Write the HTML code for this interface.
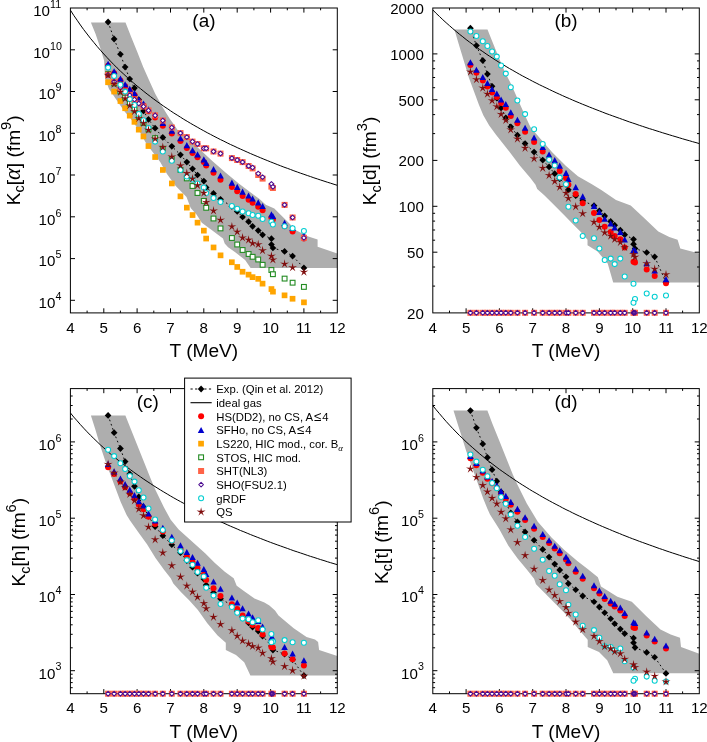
<!DOCTYPE html>
<html><head><meta charset="utf-8"><title>Chemical equilibrium constants</title>
<style>html,body{margin:0;padding:0;background:#fff}svg{display:block;will-change:transform}text{fill:#000}</style></head>
<body>
<svg width="707" height="742" viewBox="0 0 707 742">
<rect width="707" height="742" fill="#fff"/>
<clipPath id="cla"><rect x="70.4" y="8.0" width="266.9" height="304.9"/></clipPath>
<g clip-path="url(#cla)">
<path d="M90.9 22.4L125.5 22.4L131.3 37.3L137.3 52.1L143.2 66.9L149.1 80.3L155.1 93.6L162.5 107.0L169.9 118.9L174.3 125.1L177.4 129.7L184.7 134.8L197.5 147.2L212.3 161.0L225.5 172.6L239.4 184.0L259.2 198.8L265.8 204.8L274.3 208.5L287.9 222.1L296.4 230.6L308.3 236.5L317.6 239.4L317.6 246.7L337.3 253.5L337.3 267.9L250.6 267.9L245.1 260.0L234.9 252.0L228.1 247.3L224.7 243.6L223.0 238.5L212.0 230.3L201.8 222.7L196.7 214.7L190.7 207.9L186.5 196.9L175.5 185.8L167.0 174.0L160.2 162.1L150.0 148.5L145.5 142.3L139.1 130.5L130.6 118.5L125.0 112.0L120.0 105.0L114.5 97.0L109.0 89.0L105.0 78.0L104.1 60.6L99.9 46.8L95.6 34.1Z" fill="#aeaeae"/>
<path d="M70.4 10.1L73.7 15.3L77.1 20.2L80.4 25.0L83.7 29.6L87.1 34.0L90.4 38.3L93.8 42.4L97.1 46.4L100.4 50.2L103.8 54.0L107.1 57.6L110.4 61.1L113.8 64.6L117.1 67.9L120.4 71.1L123.8 74.2L127.1 77.3L130.5 80.3L133.8 83.2L137.1 86.0L140.5 88.7L143.8 91.4L147.1 94.0L150.5 96.6L153.8 99.1L157.1 101.5L160.5 103.9L163.8 106.3L167.2 108.5L170.5 110.8L173.8 113.0L177.2 115.1L180.5 117.2L183.8 119.3L187.2 121.3L190.5 123.3L193.8 125.2L197.2 127.1L200.5 129.0L203.8 130.8L207.2 132.7L210.5 134.4L213.9 136.2L217.2 137.9L220.5 139.6L223.9 141.2L227.2 142.9L230.5 144.5L233.9 146.0L237.2 147.6L240.5 149.1L243.9 150.6L247.2 152.1L250.6 153.6L253.9 155.0L257.2 156.4L260.6 157.8L263.9 159.2L267.2 160.5L270.6 161.9L273.9 163.2L277.2 164.5L280.6 165.8L283.9 167.1L287.3 168.3L290.6 169.5L293.9 170.8L297.3 172.0L300.6 173.2L303.9 174.3L307.3 175.5L310.6 176.6L313.9 177.8L317.3 178.9L320.6 180.0L324.0 181.1L327.3 182.2L330.6 183.2L334.0 184.3L337.3 185.3" fill="none" stroke="#000" stroke-width="1.0"/>
</g>
<rect x="70.4" y="8.0" width="266.9" height="304.9" fill="none" stroke="#000" stroke-width="1"/>
<text x="70.4" y="332.6" font-size="15.1" text-anchor="middle" font-family="Liberation Sans, sans-serif">4</text>
<path d="M87.1 312.9v-2.3M87.1 8.0v2.3" stroke="#000" stroke-width="1"/>
<path d="M103.8 312.9v-4.6M103.8 8.0v4.6" stroke="#000" stroke-width="1"/>
<text x="103.8" y="332.6" font-size="15.1" text-anchor="middle" font-family="Liberation Sans, sans-serif">5</text>
<path d="M120.4 312.9v-2.3M120.4 8.0v2.3" stroke="#000" stroke-width="1"/>
<path d="M137.1 312.9v-4.6M137.1 8.0v4.6" stroke="#000" stroke-width="1"/>
<text x="137.1" y="332.6" font-size="15.1" text-anchor="middle" font-family="Liberation Sans, sans-serif">6</text>
<path d="M153.8 312.9v-2.3M153.8 8.0v2.3" stroke="#000" stroke-width="1"/>
<path d="M170.5 312.9v-4.6M170.5 8.0v4.6" stroke="#000" stroke-width="1"/>
<text x="170.5" y="332.6" font-size="15.1" text-anchor="middle" font-family="Liberation Sans, sans-serif">7</text>
<path d="M187.2 312.9v-2.3M187.2 8.0v2.3" stroke="#000" stroke-width="1"/>
<path d="M203.8 312.9v-4.6M203.8 8.0v4.6" stroke="#000" stroke-width="1"/>
<text x="203.8" y="332.6" font-size="15.1" text-anchor="middle" font-family="Liberation Sans, sans-serif">8</text>
<path d="M220.5 312.9v-2.3M220.5 8.0v2.3" stroke="#000" stroke-width="1"/>
<path d="M237.2 312.9v-4.6M237.2 8.0v4.6" stroke="#000" stroke-width="1"/>
<text x="237.2" y="332.6" font-size="15.1" text-anchor="middle" font-family="Liberation Sans, sans-serif">9</text>
<path d="M253.9 312.9v-2.3M253.9 8.0v2.3" stroke="#000" stroke-width="1"/>
<path d="M270.6 312.9v-4.6M270.6 8.0v4.6" stroke="#000" stroke-width="1"/>
<text x="270.6" y="332.6" font-size="15.1" text-anchor="middle" font-family="Liberation Sans, sans-serif">10</text>
<path d="M287.3 312.9v-2.3M287.3 8.0v2.3" stroke="#000" stroke-width="1"/>
<path d="M303.9 312.9v-4.6M303.9 8.0v4.6" stroke="#000" stroke-width="1"/>
<text x="303.9" y="332.6" font-size="15.1" text-anchor="middle" font-family="Liberation Sans, sans-serif">11</text>
<path d="M320.6 312.9v-2.3M320.6 8.0v2.3" stroke="#000" stroke-width="1"/>
<text x="337.3" y="332.6" font-size="15.1" text-anchor="middle" font-family="Liberation Sans, sans-serif">12</text>
<text x="203.9" y="356.7" font-size="19.1" text-anchor="middle" font-family="Liberation Sans, sans-serif">T (MeV)</text>
<path d="M70.4 300.3h4.6M337.3 300.3h-4.6" stroke="#000" stroke-width="1"/>
<text x="55.4" y="308.1" font-size="15.1" text-anchor="end" font-family="Liberation Sans, sans-serif">10</text>
<text x="55.5" y="300.0" font-size="10.7" text-anchor="start" font-family="Liberation Sans, sans-serif">4</text>
<path d="M70.4 258.6h4.6M337.3 258.6h-4.6" stroke="#000" stroke-width="1"/>
<text x="55.4" y="266.4" font-size="15.1" text-anchor="end" font-family="Liberation Sans, sans-serif">10</text>
<text x="55.5" y="258.3" font-size="10.7" text-anchor="start" font-family="Liberation Sans, sans-serif">5</text>
<path d="M70.4 216.8h4.6M337.3 216.8h-4.6" stroke="#000" stroke-width="1"/>
<text x="55.4" y="224.6" font-size="15.1" text-anchor="end" font-family="Liberation Sans, sans-serif">10</text>
<text x="55.5" y="216.5" font-size="10.7" text-anchor="start" font-family="Liberation Sans, sans-serif">6</text>
<path d="M70.4 175.0h4.6M337.3 175.0h-4.6" stroke="#000" stroke-width="1"/>
<text x="55.4" y="182.8" font-size="15.1" text-anchor="end" font-family="Liberation Sans, sans-serif">10</text>
<text x="55.5" y="174.7" font-size="10.7" text-anchor="start" font-family="Liberation Sans, sans-serif">7</text>
<path d="M70.4 133.3h4.6M337.3 133.3h-4.6" stroke="#000" stroke-width="1"/>
<text x="55.4" y="141.1" font-size="15.1" text-anchor="end" font-family="Liberation Sans, sans-serif">10</text>
<text x="55.5" y="133.0" font-size="10.7" text-anchor="start" font-family="Liberation Sans, sans-serif">8</text>
<path d="M70.4 91.5h4.6M337.3 91.5h-4.6" stroke="#000" stroke-width="1"/>
<text x="55.4" y="99.3" font-size="15.1" text-anchor="end" font-family="Liberation Sans, sans-serif">10</text>
<text x="55.5" y="91.2" font-size="10.7" text-anchor="start" font-family="Liberation Sans, sans-serif">9</text>
<path d="M70.4 49.8h4.6M337.3 49.8h-4.6" stroke="#000" stroke-width="1"/>
<text x="50.0" y="57.6" font-size="15.1" text-anchor="end" font-family="Liberation Sans, sans-serif">10</text>
<text x="50.1" y="49.5" font-size="10.7" text-anchor="start" font-family="Liberation Sans, sans-serif">10</text>
<text x="50.0" y="15.8" font-size="15.1" text-anchor="end" font-family="Liberation Sans, sans-serif">10</text>
<text x="50.1" y="7.7" font-size="10.7" text-anchor="start" font-family="Liberation Sans, sans-serif">11</text>
<path d="M108.1 22.0L114.1 39.0L120.4 54.3L125.1 67.1L129.8 79.0L134.5 88.1L138.8 99.5L143.5 110.9L148.5 119.4L155.1 128.2L162.8 137.4L171.8 146.3L180.5 154.8L186.8 162.1L192.5 168.8L197.5 175.0L203.8 181.1L206.2 187.5L213.5 193.4L220.5 199.3L231.9 206.5L237.2 211.5L242.6 217.0L248.6 221.7L252.6 226.3L258.2 230.6L262.6 234.8L271.4 238.7L271.4 244.5L272.9 248.0L284.6 251.4L292.6 256.0L303.9 267.9" fill="none" stroke="#000" stroke-width="0.95" stroke-dasharray="1.7 2.8"/>
<path d="M108.1 18.6L111.4 22.0L108.1 25.4L104.7 22.0Z" fill="#000" stroke="none" stroke-width="0" stroke-linejoin="round"/>
<path d="M114.1 35.6L117.5 39.0L114.1 42.4L110.8 39.0Z" fill="#000" stroke="none" stroke-width="0" stroke-linejoin="round"/>
<path d="M120.4 50.9L123.8 54.3L120.4 57.6L117.1 54.3Z" fill="#000" stroke="none" stroke-width="0" stroke-linejoin="round"/>
<path d="M125.1 63.7L128.5 67.1L125.1 70.4L121.8 67.1Z" fill="#000" stroke="none" stroke-width="0" stroke-linejoin="round"/>
<path d="M129.8 75.7L133.1 79.0L129.8 82.3L126.4 79.0Z" fill="#000" stroke="none" stroke-width="0" stroke-linejoin="round"/>
<path d="M134.5 84.8L137.8 88.1L134.5 91.4L131.1 88.1Z" fill="#000" stroke="none" stroke-width="0" stroke-linejoin="round"/>
<path d="M138.8 96.2L142.1 99.5L138.8 102.8L135.4 99.5Z" fill="#000" stroke="none" stroke-width="0" stroke-linejoin="round"/>
<path d="M143.5 107.6L146.8 110.9L143.5 114.2L140.1 110.9Z" fill="#000" stroke="none" stroke-width="0" stroke-linejoin="round"/>
<path d="M148.5 116.1L151.8 119.4L148.5 122.8L145.1 119.4Z" fill="#000" stroke="none" stroke-width="0" stroke-linejoin="round"/>
<path d="M155.1 124.8L158.5 128.2L155.1 131.5L151.8 128.2Z" fill="#000" stroke="none" stroke-width="0" stroke-linejoin="round"/>
<path d="M162.8 134.1L166.2 137.4L162.8 140.8L159.5 137.4Z" fill="#000" stroke="none" stroke-width="0" stroke-linejoin="round"/>
<path d="M171.8 143.0L175.2 146.3L171.8 149.7L168.5 146.3Z" fill="#000" stroke="none" stroke-width="0" stroke-linejoin="round"/>
<path d="M180.5 151.5L183.8 154.8L180.5 158.2L177.1 154.8Z" fill="#000" stroke="none" stroke-width="0" stroke-linejoin="round"/>
<path d="M186.8 158.8L190.2 162.1L186.8 165.4L183.5 162.1Z" fill="#000" stroke="none" stroke-width="0" stroke-linejoin="round"/>
<path d="M192.5 165.5L195.9 168.8L192.5 172.2L189.2 168.8Z" fill="#000" stroke="none" stroke-width="0" stroke-linejoin="round"/>
<path d="M197.5 171.7L200.9 175.0L197.5 178.3L194.2 175.0Z" fill="#000" stroke="none" stroke-width="0" stroke-linejoin="round"/>
<path d="M203.8 177.8L207.2 181.1L203.8 184.4L200.5 181.1Z" fill="#000" stroke="none" stroke-width="0" stroke-linejoin="round"/>
<path d="M206.2 184.2L209.5 187.5L206.2 190.8L202.8 187.5Z" fill="#000" stroke="none" stroke-width="0" stroke-linejoin="round"/>
<path d="M213.5 190.1L216.9 193.4L213.5 196.8L210.2 193.4Z" fill="#000" stroke="none" stroke-width="0" stroke-linejoin="round"/>
<path d="M220.5 196.0L223.9 199.3L220.5 202.7L217.2 199.3Z" fill="#000" stroke="none" stroke-width="0" stroke-linejoin="round"/>
<path d="M231.9 203.2L235.2 206.5L231.9 209.8L228.5 206.5Z" fill="#000" stroke="none" stroke-width="0" stroke-linejoin="round"/>
<path d="M237.2 208.2L240.6 211.5L237.2 214.8L233.9 211.5Z" fill="#000" stroke="none" stroke-width="0" stroke-linejoin="round"/>
<path d="M242.6 213.7L245.9 217.0L242.6 220.3L239.2 217.0Z" fill="#000" stroke="none" stroke-width="0" stroke-linejoin="round"/>
<path d="M248.6 218.3L251.9 221.7L248.6 225.0L245.2 221.7Z" fill="#000" stroke="none" stroke-width="0" stroke-linejoin="round"/>
<path d="M252.6 223.0L255.9 226.3L252.6 229.7L249.2 226.3Z" fill="#000" stroke="none" stroke-width="0" stroke-linejoin="round"/>
<path d="M258.2 227.2L261.6 230.6L258.2 233.9L254.9 230.6Z" fill="#000" stroke="none" stroke-width="0" stroke-linejoin="round"/>
<path d="M262.6 231.5L265.9 234.8L262.6 238.2L259.2 234.8Z" fill="#000" stroke="none" stroke-width="0" stroke-linejoin="round"/>
<path d="M271.4 235.3L274.8 238.7L271.4 242.0L268.1 238.7Z" fill="#000" stroke="none" stroke-width="0" stroke-linejoin="round"/>
<path d="M272.9 244.7L276.3 248.0L272.9 251.3L269.6 248.0Z" fill="#000" stroke="none" stroke-width="0" stroke-linejoin="round"/>
<path d="M284.6 248.1L287.9 251.4L284.6 254.8L281.2 251.4Z" fill="#000" stroke="none" stroke-width="0" stroke-linejoin="round"/>
<path d="M292.6 252.7L295.9 256.0L292.6 259.4L289.2 256.0Z" fill="#000" stroke="none" stroke-width="0" stroke-linejoin="round"/>
<path d="M303.9 264.5L307.3 267.9L303.9 271.2L300.6 267.9Z" fill="#000" stroke="none" stroke-width="0" stroke-linejoin="round"/>
<path d="M271.4 241.2L274.8 244.5L271.4 247.8L268.1 244.5Z" fill="#000" stroke="none" stroke-width="0" stroke-linejoin="round"/>
<circle cx="108.1" cy="65.7" r="3.0" fill="#ff0000" stroke="none" stroke-width="0"/>
<circle cx="114.1" cy="73.3" r="3.0" fill="#ff0000" stroke="none" stroke-width="0"/>
<circle cx="120.4" cy="80.5" r="3.0" fill="#ff0000" stroke="none" stroke-width="0"/>
<circle cx="125.1" cy="86.2" r="3.0" fill="#ff0000" stroke="none" stroke-width="0"/>
<circle cx="129.8" cy="90.7" r="3.0" fill="#ff0000" stroke="none" stroke-width="0"/>
<circle cx="134.5" cy="95.1" r="3.0" fill="#ff0000" stroke="none" stroke-width="0"/>
<circle cx="138.8" cy="101.6" r="3.0" fill="#ff0000" stroke="none" stroke-width="0"/>
<circle cx="143.5" cy="105.5" r="3.0" fill="#ff0000" stroke="none" stroke-width="0"/>
<circle cx="148.5" cy="111.3" r="3.0" fill="#ff0000" stroke="none" stroke-width="0"/>
<circle cx="155.1" cy="117.6" r="3.0" fill="#ff0000" stroke="none" stroke-width="0"/>
<circle cx="162.8" cy="125.7" r="3.0" fill="#ff0000" stroke="none" stroke-width="0"/>
<circle cx="171.8" cy="133.5" r="3.0" fill="#ff0000" stroke="none" stroke-width="0"/>
<circle cx="180.5" cy="140.9" r="3.0" fill="#ff0000" stroke="none" stroke-width="0"/>
<circle cx="186.8" cy="148.0" r="3.0" fill="#ff0000" stroke="none" stroke-width="0"/>
<circle cx="192.5" cy="152.9" r="3.0" fill="#ff0000" stroke="none" stroke-width="0"/>
<circle cx="197.5" cy="157.2" r="3.0" fill="#ff0000" stroke="none" stroke-width="0"/>
<circle cx="203.8" cy="162.1" r="3.0" fill="#ff0000" stroke="none" stroke-width="0"/>
<circle cx="206.2" cy="165.6" r="3.0" fill="#ff0000" stroke="none" stroke-width="0"/>
<circle cx="213.5" cy="172.7" r="3.0" fill="#ff0000" stroke="none" stroke-width="0"/>
<circle cx="220.5" cy="179.8" r="3.0" fill="#ff0000" stroke="none" stroke-width="0"/>
<circle cx="231.9" cy="186.9" r="3.0" fill="#ff0000" stroke="none" stroke-width="0"/>
<circle cx="237.2" cy="191.2" r="3.0" fill="#ff0000" stroke="none" stroke-width="0"/>
<circle cx="242.6" cy="195.9" r="3.0" fill="#ff0000" stroke="none" stroke-width="0"/>
<circle cx="248.6" cy="199.8" r="3.0" fill="#ff0000" stroke="none" stroke-width="0"/>
<circle cx="252.6" cy="202.8" r="3.0" fill="#ff0000" stroke="none" stroke-width="0"/>
<circle cx="258.2" cy="206.7" r="3.0" fill="#ff0000" stroke="none" stroke-width="0"/>
<circle cx="262.6" cy="210.3" r="3.0" fill="#ff0000" stroke="none" stroke-width="0"/>
<circle cx="271.4" cy="217.8" r="3.0" fill="#ff0000" stroke="none" stroke-width="0"/>
<circle cx="272.9" cy="219.5" r="3.0" fill="#ff0000" stroke="none" stroke-width="0"/>
<circle cx="284.6" cy="226.3" r="3.0" fill="#ff0000" stroke="none" stroke-width="0"/>
<circle cx="292.6" cy="231.5" r="3.0" fill="#ff0000" stroke="none" stroke-width="0"/>
<circle cx="303.9" cy="238.4" r="3.0" fill="#ff0000" stroke="none" stroke-width="0"/>
<path d="M108.1 60.7L111.3 66.8L104.8 66.8Z" fill="#0000cd"/>
<path d="M114.1 68.2L117.4 74.3L110.9 74.3Z" fill="#0000cd"/>
<path d="M120.4 75.5L123.7 81.5L117.2 81.5Z" fill="#0000cd"/>
<path d="M125.1 81.2L128.4 87.2L121.9 87.2Z" fill="#0000cd"/>
<path d="M129.8 85.7L133.0 91.8L126.5 91.8Z" fill="#0000cd"/>
<path d="M134.5 90.0L137.7 96.1L131.2 96.1Z" fill="#0000cd"/>
<path d="M138.8 96.5L142.0 102.6L135.5 102.6Z" fill="#0000cd"/>
<path d="M143.5 100.5L146.7 106.5L140.2 106.5Z" fill="#0000cd"/>
<path d="M148.5 106.2L151.7 112.3L145.2 112.3Z" fill="#0000cd"/>
<path d="M155.1 111.8L158.4 117.8L151.9 117.8Z" fill="#0000cd"/>
<path d="M162.8 119.9L166.1 126.0L159.6 126.0Z" fill="#0000cd"/>
<path d="M171.8 127.6L175.1 133.8L168.6 133.8Z" fill="#0000cd"/>
<path d="M180.5 135.0L183.7 141.2L177.2 141.2Z" fill="#0000cd"/>
<path d="M186.8 142.1L190.1 148.2L183.6 148.2Z" fill="#0000cd"/>
<path d="M192.5 147.0L195.8 153.2L189.3 153.2Z" fill="#0000cd"/>
<path d="M197.5 151.3L200.8 157.5L194.3 157.5Z" fill="#0000cd"/>
<path d="M203.8 156.2L207.1 162.4L200.6 162.4Z" fill="#0000cd"/>
<path d="M206.2 159.8L209.4 165.9L202.9 165.9Z" fill="#0000cd"/>
<path d="M213.5 166.0L216.8 172.2L210.3 172.2Z" fill="#0000cd"/>
<path d="M220.5 172.4L223.8 178.6L217.3 178.6Z" fill="#0000cd"/>
<path d="M231.9 179.5L235.1 185.7L228.6 185.7Z" fill="#0000cd"/>
<path d="M237.2 183.8L240.5 189.9L234.0 189.9Z" fill="#0000cd"/>
<path d="M242.6 188.5L245.8 194.7L239.3 194.7Z" fill="#0000cd"/>
<path d="M248.6 192.4L251.8 198.6L245.3 198.6Z" fill="#0000cd"/>
<path d="M252.6 195.4L255.8 201.6L249.3 201.6Z" fill="#0000cd"/>
<path d="M258.2 199.3L261.5 205.4L255.0 205.4Z" fill="#0000cd"/>
<path d="M262.6 202.9L265.8 209.1L259.3 209.1Z" fill="#0000cd"/>
<path d="M271.4 211.2L274.7 217.4L268.2 217.4Z" fill="#0000cd"/>
<path d="M272.9 212.9L276.2 219.1L269.7 219.1Z" fill="#0000cd"/>
<path d="M284.6 219.8L287.8 225.9L281.3 225.9Z" fill="#0000cd"/>
<path d="M292.6 224.9L295.8 231.1L289.3 231.1Z" fill="#0000cd"/>
<path d="M303.9 231.8L307.2 238.0L300.7 238.0Z" fill="#0000cd"/>
<rect x="105.2" y="79.4" width="5.7" height="5.7" fill="#ffa500" stroke="none" stroke-width="0"/>
<rect x="111.3" y="88.7" width="5.7" height="5.7" fill="#ffa500" stroke="none" stroke-width="0"/>
<rect x="117.6" y="98.2" width="5.7" height="5.7" fill="#ffa500" stroke="none" stroke-width="0"/>
<rect x="122.3" y="105.4" width="5.7" height="5.7" fill="#ffa500" stroke="none" stroke-width="0"/>
<rect x="126.9" y="112.8" width="5.7" height="5.7" fill="#ffa500" stroke="none" stroke-width="0"/>
<rect x="131.6" y="119.0" width="5.7" height="5.7" fill="#ffa500" stroke="none" stroke-width="0"/>
<rect x="135.9" y="126.8" width="5.7" height="5.7" fill="#ffa500" stroke="none" stroke-width="0"/>
<rect x="140.6" y="133.6" width="5.7" height="5.7" fill="#ffa500" stroke="none" stroke-width="0"/>
<rect x="145.6" y="143.2" width="5.7" height="5.7" fill="#ffa500" stroke="none" stroke-width="0"/>
<rect x="152.3" y="154.2" width="5.7" height="5.7" fill="#ffa500" stroke="none" stroke-width="0"/>
<rect x="160.0" y="167.1" width="5.7" height="5.7" fill="#ffa500" stroke="none" stroke-width="0"/>
<rect x="169.0" y="180.6" width="5.7" height="5.7" fill="#ffa500" stroke="none" stroke-width="0"/>
<rect x="177.6" y="193.5" width="5.7" height="5.7" fill="#ffa500" stroke="none" stroke-width="0"/>
<rect x="184.0" y="204.8" width="5.7" height="5.7" fill="#ffa500" stroke="none" stroke-width="0"/>
<rect x="189.7" y="212.2" width="5.7" height="5.7" fill="#ffa500" stroke="none" stroke-width="0"/>
<rect x="194.7" y="219.8" width="5.7" height="5.7" fill="#ffa500" stroke="none" stroke-width="0"/>
<rect x="201.0" y="227.8" width="5.7" height="5.7" fill="#ffa500" stroke="none" stroke-width="0"/>
<rect x="203.3" y="235.7" width="5.7" height="5.7" fill="#ffa500" stroke="none" stroke-width="0"/>
<rect x="210.7" y="244.6" width="5.7" height="5.7" fill="#ffa500" stroke="none" stroke-width="0"/>
<rect x="217.7" y="252.5" width="5.7" height="5.7" fill="#ffa500" stroke="none" stroke-width="0"/>
<rect x="229.0" y="259.4" width="5.7" height="5.7" fill="#ffa500" stroke="none" stroke-width="0"/>
<rect x="234.4" y="264.1" width="5.7" height="5.7" fill="#ffa500" stroke="none" stroke-width="0"/>
<rect x="239.7" y="268.9" width="5.7" height="5.7" fill="#ffa500" stroke="none" stroke-width="0"/>
<rect x="245.7" y="271.8" width="5.7" height="5.7" fill="#ffa500" stroke="none" stroke-width="0"/>
<rect x="249.7" y="274.3" width="5.7" height="5.7" fill="#ffa500" stroke="none" stroke-width="0"/>
<rect x="255.4" y="276.0" width="5.7" height="5.7" fill="#ffa500" stroke="none" stroke-width="0"/>
<rect x="259.7" y="280.8" width="5.7" height="5.7" fill="#ffa500" stroke="none" stroke-width="0"/>
<rect x="268.6" y="286.2" width="5.7" height="5.7" fill="#ffa500" stroke="none" stroke-width="0"/>
<rect x="270.1" y="288.8" width="5.7" height="5.7" fill="#ffa500" stroke="none" stroke-width="0"/>
<rect x="281.7" y="292.5" width="5.7" height="5.7" fill="#ffa500" stroke="none" stroke-width="0"/>
<rect x="289.7" y="295.9" width="5.7" height="5.7" fill="#ffa500" stroke="none" stroke-width="0"/>
<rect x="301.1" y="299.5" width="5.7" height="5.7" fill="#ffa500" stroke="none" stroke-width="0"/>
<rect x="105.7" y="71.6" width="4.8" height="4.8" fill="#fff" stroke="#228b22" stroke-width="1.1"/>
<rect x="111.7" y="81.1" width="4.8" height="4.8" fill="#fff" stroke="#228b22" stroke-width="1.1"/>
<rect x="118.0" y="89.1" width="4.8" height="4.8" fill="#fff" stroke="#228b22" stroke-width="1.1"/>
<rect x="122.7" y="95.2" width="4.8" height="4.8" fill="#fff" stroke="#228b22" stroke-width="1.1"/>
<rect x="127.4" y="101.1" width="4.8" height="4.8" fill="#fff" stroke="#228b22" stroke-width="1.1"/>
<rect x="132.1" y="107.1" width="4.8" height="4.8" fill="#fff" stroke="#228b22" stroke-width="1.1"/>
<rect x="136.4" y="114.6" width="4.8" height="4.8" fill="#fff" stroke="#228b22" stroke-width="1.1"/>
<rect x="141.1" y="120.6" width="4.8" height="4.8" fill="#fff" stroke="#228b22" stroke-width="1.1"/>
<rect x="146.1" y="127.1" width="4.8" height="4.8" fill="#fff" stroke="#228b22" stroke-width="1.1"/>
<rect x="152.7" y="135.7" width="4.8" height="4.8" fill="#fff" stroke="#228b22" stroke-width="1.1"/>
<rect x="160.4" y="146.3" width="4.8" height="4.8" fill="#fff" stroke="#228b22" stroke-width="1.1"/>
<rect x="169.4" y="156.9" width="4.8" height="4.8" fill="#fff" stroke="#228b22" stroke-width="1.1"/>
<rect x="178.1" y="167.5" width="4.8" height="4.8" fill="#fff" stroke="#228b22" stroke-width="1.1"/>
<rect x="184.4" y="176.0" width="4.8" height="4.8" fill="#fff" stroke="#228b22" stroke-width="1.1"/>
<rect x="190.1" y="183.6" width="4.8" height="4.8" fill="#fff" stroke="#228b22" stroke-width="1.1"/>
<rect x="195.1" y="190.6" width="4.8" height="4.8" fill="#fff" stroke="#228b22" stroke-width="1.1"/>
<rect x="201.4" y="198.5" width="4.8" height="4.8" fill="#fff" stroke="#228b22" stroke-width="1.1"/>
<rect x="203.8" y="205.4" width="4.8" height="4.8" fill="#fff" stroke="#228b22" stroke-width="1.1"/>
<rect x="211.1" y="216.1" width="4.8" height="4.8" fill="#fff" stroke="#228b22" stroke-width="1.1"/>
<rect x="218.1" y="226.0" width="4.8" height="4.8" fill="#fff" stroke="#228b22" stroke-width="1.1"/>
<rect x="229.5" y="235.6" width="4.8" height="4.8" fill="#fff" stroke="#228b22" stroke-width="1.1"/>
<rect x="234.8" y="242.1" width="4.8" height="4.8" fill="#fff" stroke="#228b22" stroke-width="1.1"/>
<rect x="240.2" y="247.6" width="4.8" height="4.8" fill="#fff" stroke="#228b22" stroke-width="1.1"/>
<rect x="246.2" y="251.6" width="4.8" height="4.8" fill="#fff" stroke="#228b22" stroke-width="1.1"/>
<rect x="250.2" y="254.4" width="4.8" height="4.8" fill="#fff" stroke="#228b22" stroke-width="1.1"/>
<rect x="255.8" y="257.1" width="4.8" height="4.8" fill="#fff" stroke="#228b22" stroke-width="1.1"/>
<rect x="260.2" y="262.4" width="4.8" height="4.8" fill="#fff" stroke="#228b22" stroke-width="1.1"/>
<rect x="269.0" y="267.6" width="4.8" height="4.8" fill="#fff" stroke="#228b22" stroke-width="1.1"/>
<rect x="270.5" y="271.8" width="4.8" height="4.8" fill="#fff" stroke="#228b22" stroke-width="1.1"/>
<rect x="282.2" y="276.2" width="4.8" height="4.8" fill="#fff" stroke="#228b22" stroke-width="1.1"/>
<rect x="290.2" y="280.3" width="4.8" height="4.8" fill="#fff" stroke="#228b22" stroke-width="1.1"/>
<rect x="301.5" y="284.5" width="4.8" height="4.8" fill="#fff" stroke="#228b22" stroke-width="1.1"/>
<rect x="105.1" y="71.8" width="6.0" height="6.0" fill="#ff6347" stroke="none" stroke-width="0"/>
<rect x="111.1" y="78.7" width="6.0" height="6.0" fill="#ff6347" stroke="none" stroke-width="0"/>
<rect x="117.4" y="84.7" width="6.0" height="6.0" fill="#ff6347" stroke="none" stroke-width="0"/>
<rect x="122.1" y="88.5" width="6.0" height="6.0" fill="#ff6347" stroke="none" stroke-width="0"/>
<rect x="126.8" y="92.1" width="6.0" height="6.0" fill="#ff6347" stroke="none" stroke-width="0"/>
<rect x="131.5" y="96.6" width="6.0" height="6.0" fill="#ff6347" stroke="none" stroke-width="0"/>
<rect x="135.8" y="100.5" width="6.0" height="6.0" fill="#ff6347" stroke="none" stroke-width="0"/>
<rect x="140.5" y="103.5" width="6.0" height="6.0" fill="#ff6347" stroke="none" stroke-width="0"/>
<rect x="145.5" y="107.4" width="6.0" height="6.0" fill="#ff6347" stroke="none" stroke-width="0"/>
<rect x="152.1" y="112.4" width="6.0" height="6.0" fill="#ff6347" stroke="none" stroke-width="0"/>
<rect x="159.8" y="117.5" width="6.0" height="6.0" fill="#ff6347" stroke="none" stroke-width="0"/>
<rect x="168.8" y="124.5" width="6.0" height="6.0" fill="#ff6347" stroke="none" stroke-width="0"/>
<rect x="177.5" y="130.1" width="6.0" height="6.0" fill="#ff6347" stroke="none" stroke-width="0"/>
<rect x="183.8" y="134.1" width="6.0" height="6.0" fill="#ff6347" stroke="none" stroke-width="0"/>
<rect x="189.5" y="138.6" width="6.0" height="6.0" fill="#ff6347" stroke="none" stroke-width="0"/>
<rect x="194.5" y="141.0" width="6.0" height="6.0" fill="#ff6347" stroke="none" stroke-width="0"/>
<rect x="200.8" y="145.3" width="6.0" height="6.0" fill="#ff6347" stroke="none" stroke-width="0"/>
<rect x="203.2" y="145.3" width="6.0" height="6.0" fill="#ff6347" stroke="none" stroke-width="0"/>
<rect x="210.5" y="148.5" width="6.0" height="6.0" fill="#ff6347" stroke="none" stroke-width="0"/>
<rect x="217.5" y="150.6" width="6.0" height="6.0" fill="#ff6347" stroke="none" stroke-width="0"/>
<rect x="228.9" y="155.1" width="6.0" height="6.0" fill="#ff6347" stroke="none" stroke-width="0"/>
<rect x="234.2" y="157.0" width="6.0" height="6.0" fill="#ff6347" stroke="none" stroke-width="0"/>
<rect x="239.6" y="159.1" width="6.0" height="6.0" fill="#ff6347" stroke="none" stroke-width="0"/>
<rect x="245.6" y="163.0" width="6.0" height="6.0" fill="#ff6347" stroke="none" stroke-width="0"/>
<rect x="249.6" y="165.4" width="6.0" height="6.0" fill="#ff6347" stroke="none" stroke-width="0"/>
<rect x="255.2" y="172.0" width="6.0" height="6.0" fill="#ff6347" stroke="none" stroke-width="0"/>
<rect x="259.6" y="175.6" width="6.0" height="6.0" fill="#ff6347" stroke="none" stroke-width="0"/>
<rect x="268.4" y="183.6" width="6.0" height="6.0" fill="#ff6347" stroke="none" stroke-width="0"/>
<rect x="269.9" y="185.0" width="6.0" height="6.0" fill="#ff6347" stroke="none" stroke-width="0"/>
<rect x="281.6" y="201.9" width="6.0" height="6.0" fill="#ff6347" stroke="none" stroke-width="0"/>
<rect x="289.6" y="214.5" width="6.0" height="6.0" fill="#ff6347" stroke="none" stroke-width="0"/>
<rect x="300.9" y="234.8" width="6.0" height="6.0" fill="#ff6347" stroke="none" stroke-width="0"/>
<path d="M108.1 72.5L110.4 74.8L108.1 77.1L105.7 74.8Z" fill="#fff" stroke="#4b0a90" stroke-width="1.05" stroke-linejoin="round"/>
<path d="M114.1 79.4L116.5 81.7L114.1 84.0L111.8 81.7Z" fill="#fff" stroke="#4b0a90" stroke-width="1.05" stroke-linejoin="round"/>
<path d="M120.4 85.4L122.8 87.7L120.4 90.0L118.1 87.7Z" fill="#fff" stroke="#4b0a90" stroke-width="1.05" stroke-linejoin="round"/>
<path d="M125.1 89.2L127.5 91.5L125.1 93.8L122.8 91.5Z" fill="#fff" stroke="#4b0a90" stroke-width="1.05" stroke-linejoin="round"/>
<path d="M129.8 92.8L132.1 95.1L129.8 97.4L127.4 95.1Z" fill="#fff" stroke="#4b0a90" stroke-width="1.05" stroke-linejoin="round"/>
<path d="M134.5 97.2L136.8 99.6L134.5 101.9L132.1 99.6Z" fill="#fff" stroke="#4b0a90" stroke-width="1.05" stroke-linejoin="round"/>
<path d="M138.8 101.2L141.1 103.5L138.8 105.8L136.4 103.5Z" fill="#fff" stroke="#4b0a90" stroke-width="1.05" stroke-linejoin="round"/>
<path d="M143.5 104.2L145.8 106.5L143.5 108.8L141.1 106.5Z" fill="#fff" stroke="#4b0a90" stroke-width="1.05" stroke-linejoin="round"/>
<path d="M148.5 108.1L150.8 110.4L148.5 112.8L146.1 110.4Z" fill="#fff" stroke="#4b0a90" stroke-width="1.05" stroke-linejoin="round"/>
<path d="M155.1 113.1L157.5 115.4L155.1 117.8L152.8 115.4Z" fill="#fff" stroke="#4b0a90" stroke-width="1.05" stroke-linejoin="round"/>
<path d="M162.8 118.2L165.2 120.5L162.8 122.8L160.5 120.5Z" fill="#fff" stroke="#4b0a90" stroke-width="1.05" stroke-linejoin="round"/>
<path d="M171.8 125.2L174.2 127.5L171.8 129.8L169.5 127.5Z" fill="#fff" stroke="#4b0a90" stroke-width="1.05" stroke-linejoin="round"/>
<path d="M180.5 130.8L182.8 133.1L180.5 135.4L178.1 133.1Z" fill="#fff" stroke="#4b0a90" stroke-width="1.05" stroke-linejoin="round"/>
<path d="M186.8 134.8L189.2 137.1L186.8 139.4L184.5 137.1Z" fill="#fff" stroke="#4b0a90" stroke-width="1.05" stroke-linejoin="round"/>
<path d="M192.5 139.2L194.9 141.6L192.5 143.9L190.2 141.6Z" fill="#fff" stroke="#4b0a90" stroke-width="1.05" stroke-linejoin="round"/>
<path d="M197.5 141.7L199.9 144.0L197.5 146.3L195.2 144.0Z" fill="#fff" stroke="#4b0a90" stroke-width="1.05" stroke-linejoin="round"/>
<path d="M203.8 146.0L206.2 148.3L203.8 150.7L201.5 148.3Z" fill="#fff" stroke="#4b0a90" stroke-width="1.05" stroke-linejoin="round"/>
<path d="M206.2 146.0L208.5 148.3L206.2 150.7L203.8 148.3Z" fill="#fff" stroke="#4b0a90" stroke-width="1.05" stroke-linejoin="round"/>
<path d="M213.5 149.2L215.9 151.5L213.5 153.8L211.2 151.5Z" fill="#fff" stroke="#4b0a90" stroke-width="1.05" stroke-linejoin="round"/>
<path d="M220.5 151.2L222.9 153.6L220.5 155.9L218.2 153.6Z" fill="#fff" stroke="#4b0a90" stroke-width="1.05" stroke-linejoin="round"/>
<path d="M231.9 155.8L234.2 158.1L231.9 160.4L229.5 158.1Z" fill="#fff" stroke="#4b0a90" stroke-width="1.05" stroke-linejoin="round"/>
<path d="M237.2 157.7L239.6 160.0L237.2 162.3L234.9 160.0Z" fill="#fff" stroke="#4b0a90" stroke-width="1.05" stroke-linejoin="round"/>
<path d="M242.6 159.8L244.9 162.1L242.6 164.4L240.2 162.1Z" fill="#fff" stroke="#4b0a90" stroke-width="1.05" stroke-linejoin="round"/>
<path d="M248.6 163.7L250.9 166.0L248.6 168.3L246.2 166.0Z" fill="#fff" stroke="#4b0a90" stroke-width="1.05" stroke-linejoin="round"/>
<path d="M252.6 165.2L254.9 167.6L252.6 169.9L250.2 167.6Z" fill="#fff" stroke="#4b0a90" stroke-width="1.05" stroke-linejoin="round"/>
<path d="M258.2 171.2L260.6 173.6L258.2 175.9L255.9 173.6Z" fill="#fff" stroke="#4b0a90" stroke-width="1.05" stroke-linejoin="round"/>
<path d="M262.6 174.8L264.9 177.1L262.6 179.4L260.2 177.1Z" fill="#fff" stroke="#4b0a90" stroke-width="1.05" stroke-linejoin="round"/>
<path d="M271.4 181.6L273.8 183.9L271.4 186.2L269.1 183.9Z" fill="#fff" stroke="#4b0a90" stroke-width="1.05" stroke-linejoin="round"/>
<path d="M272.9 184.5L275.3 186.8L272.9 189.2L270.6 186.8Z" fill="#fff" stroke="#4b0a90" stroke-width="1.05" stroke-linejoin="round"/>
<path d="M284.6 202.6L286.9 204.9L284.6 207.2L282.2 204.9Z" fill="#fff" stroke="#4b0a90" stroke-width="1.05" stroke-linejoin="round"/>
<path d="M292.6 215.2L294.9 217.5L292.6 219.8L290.2 217.5Z" fill="#fff" stroke="#4b0a90" stroke-width="1.05" stroke-linejoin="round"/>
<path d="M303.9 235.5L306.3 237.8L303.9 240.2L301.6 237.8Z" fill="#fff" stroke="#4b0a90" stroke-width="1.05" stroke-linejoin="round"/>
<circle cx="108.1" cy="67.6" r="2.5" fill="#fff" stroke="#00ced1" stroke-width="1.05"/>
<circle cx="114.1" cy="76.0" r="2.5" fill="#fff" stroke="#00ced1" stroke-width="1.05"/>
<circle cx="120.4" cy="84.7" r="2.5" fill="#fff" stroke="#00ced1" stroke-width="1.05"/>
<circle cx="125.1" cy="91.6" r="2.5" fill="#fff" stroke="#00ced1" stroke-width="1.05"/>
<circle cx="129.8" cy="99.1" r="2.5" fill="#fff" stroke="#00ced1" stroke-width="1.05"/>
<circle cx="134.5" cy="105.0" r="2.5" fill="#fff" stroke="#00ced1" stroke-width="1.05"/>
<circle cx="138.8" cy="113.9" r="2.5" fill="#fff" stroke="#00ced1" stroke-width="1.05"/>
<circle cx="143.5" cy="120.3" r="2.5" fill="#fff" stroke="#00ced1" stroke-width="1.05"/>
<circle cx="148.5" cy="128.0" r="2.5" fill="#fff" stroke="#00ced1" stroke-width="1.05"/>
<circle cx="155.1" cy="141.6" r="2.5" fill="#fff" stroke="#00ced1" stroke-width="1.05"/>
<circle cx="162.8" cy="151.5" r="2.5" fill="#fff" stroke="#00ced1" stroke-width="1.05"/>
<circle cx="171.8" cy="160.7" r="2.5" fill="#fff" stroke="#00ced1" stroke-width="1.05"/>
<circle cx="180.5" cy="169.9" r="2.5" fill="#fff" stroke="#00ced1" stroke-width="1.05"/>
<circle cx="186.8" cy="176.4" r="2.5" fill="#fff" stroke="#00ced1" stroke-width="1.05"/>
<circle cx="192.5" cy="179.5" r="2.5" fill="#fff" stroke="#00ced1" stroke-width="1.05"/>
<circle cx="197.5" cy="183.5" r="2.5" fill="#fff" stroke="#00ced1" stroke-width="1.05"/>
<circle cx="203.8" cy="187.4" r="2.5" fill="#fff" stroke="#00ced1" stroke-width="1.05"/>
<circle cx="206.2" cy="193.0" r="2.5" fill="#fff" stroke="#00ced1" stroke-width="1.05"/>
<circle cx="213.5" cy="197.9" r="2.5" fill="#fff" stroke="#00ced1" stroke-width="1.05"/>
<circle cx="220.5" cy="201.9" r="2.5" fill="#fff" stroke="#00ced1" stroke-width="1.05"/>
<circle cx="231.9" cy="205.9" r="2.5" fill="#fff" stroke="#00ced1" stroke-width="1.05"/>
<circle cx="237.2" cy="208.8" r="2.5" fill="#fff" stroke="#00ced1" stroke-width="1.05"/>
<circle cx="242.6" cy="211.5" r="2.5" fill="#fff" stroke="#00ced1" stroke-width="1.05"/>
<circle cx="248.6" cy="213.2" r="2.5" fill="#fff" stroke="#00ced1" stroke-width="1.05"/>
<circle cx="252.6" cy="215.0" r="2.5" fill="#fff" stroke="#00ced1" stroke-width="1.05"/>
<circle cx="258.2" cy="215.8" r="2.5" fill="#fff" stroke="#00ced1" stroke-width="1.05"/>
<circle cx="262.6" cy="218.9" r="2.5" fill="#fff" stroke="#00ced1" stroke-width="1.05"/>
<circle cx="271.4" cy="221.8" r="2.5" fill="#fff" stroke="#00ced1" stroke-width="1.05"/>
<circle cx="272.9" cy="224.4" r="2.5" fill="#fff" stroke="#00ced1" stroke-width="1.05"/>
<circle cx="284.6" cy="226.3" r="2.5" fill="#fff" stroke="#00ced1" stroke-width="1.05"/>
<circle cx="292.6" cy="228.2" r="2.5" fill="#fff" stroke="#00ced1" stroke-width="1.05"/>
<circle cx="303.9" cy="231.0" r="2.5" fill="#fff" stroke="#00ced1" stroke-width="1.05"/>
<path d="M108.1 70.6L108.9 74.2L112.6 73.8L109.4 75.7L110.9 79.1L108.1 76.7L105.3 79.1L106.8 75.7L103.6 73.8L107.3 74.2Z" fill="#800d0d"/>
<path d="M114.1 79.5L114.9 83.1L118.6 82.7L115.4 84.6L116.9 88.0L114.1 85.6L111.3 88.0L112.8 84.6L109.6 82.7L113.3 83.1Z" fill="#800d0d"/>
<path d="M120.4 87.4L121.2 91.0L124.9 90.6L121.7 92.5L123.2 95.9L120.4 93.5L117.7 95.9L119.1 92.5L116.0 90.6L119.6 91.0Z" fill="#800d0d"/>
<path d="M125.1 93.9L125.9 97.5L129.6 97.1L126.4 99.0L127.9 102.4L125.1 100.0L122.4 102.4L123.8 99.0L120.6 97.1L124.3 97.5Z" fill="#800d0d"/>
<path d="M129.8 100.8L130.6 104.4L134.3 104.0L131.1 105.9L132.5 109.3L129.8 106.9L127.0 109.3L128.5 105.9L125.3 104.0L129.0 104.4Z" fill="#800d0d"/>
<path d="M134.5 106.7L135.3 110.3L138.9 109.9L135.8 111.8L137.2 115.2L134.5 112.8L131.7 115.2L133.2 111.8L130.0 109.9L133.7 110.3Z" fill="#800d0d"/>
<path d="M138.8 113.7L139.6 117.3L143.3 116.9L140.1 118.8L141.6 122.2L138.8 119.8L136.0 122.2L137.5 118.8L134.3 116.9L138.0 117.3Z" fill="#800d0d"/>
<path d="M143.5 118.6L144.3 122.2L147.9 121.8L144.8 123.7L146.2 127.1L143.5 124.7L140.7 127.1L142.2 123.7L139.0 121.8L142.7 122.2Z" fill="#800d0d"/>
<path d="M148.5 125.3L149.3 128.9L152.9 128.5L149.8 130.4L151.2 133.8L148.5 131.4L145.7 133.8L147.2 130.4L144.0 128.5L147.7 128.9Z" fill="#800d0d"/>
<path d="M155.1 134.1L155.9 137.7L159.6 137.3L156.4 139.2L157.9 142.6L155.1 140.2L152.4 142.6L153.8 139.2L150.7 137.3L154.3 137.7Z" fill="#800d0d"/>
<path d="M162.8 142.6L163.6 146.2L167.3 145.8L164.1 147.7L165.6 151.1L162.8 148.7L160.1 151.1L161.5 147.7L158.3 145.8L162.0 146.2Z" fill="#800d0d"/>
<path d="M171.8 152.1L172.6 155.7L176.3 155.3L173.1 157.2L174.6 160.6L171.8 158.2L169.1 160.6L170.5 157.2L167.4 155.3L171.0 155.7Z" fill="#800d0d"/>
<path d="M180.5 161.0L181.3 164.6L185.0 164.2L181.8 166.1L183.3 169.5L180.5 167.1L177.7 169.5L179.2 166.1L176.0 164.2L179.7 164.6Z" fill="#800d0d"/>
<path d="M186.8 168.6L187.6 172.2L191.3 171.8L188.1 173.7L189.6 177.1L186.8 174.7L184.1 177.1L185.5 173.7L182.4 171.8L186.0 172.2Z" fill="#800d0d"/>
<path d="M192.5 174.1L193.3 177.7L197.0 177.3L193.8 179.2L195.3 182.6L192.5 180.2L189.7 182.6L191.2 179.2L188.0 177.3L191.7 177.7Z" fill="#800d0d"/>
<path d="M197.5 180.7L198.3 184.3L202.0 183.9L198.8 185.8L200.3 189.2L197.5 186.8L194.7 189.2L196.2 185.8L193.0 183.9L196.7 184.3Z" fill="#800d0d"/>
<path d="M203.8 188.3L204.7 191.9L208.3 191.5L205.1 193.4L206.6 196.8L203.8 194.4L201.1 196.8L202.6 193.4L199.4 191.5L203.0 191.9Z" fill="#800d0d"/>
<path d="M206.2 197.6L207.0 201.2L210.7 200.8L207.5 202.7L208.9 206.1L206.2 203.7L203.4 206.1L204.9 202.7L201.7 200.8L205.4 201.2Z" fill="#800d0d"/>
<path d="M213.5 206.1L214.3 209.7L218.0 209.3L214.8 211.2L216.3 214.6L213.5 212.2L210.8 214.6L212.2 211.2L209.1 209.3L212.7 209.7Z" fill="#800d0d"/>
<path d="M220.5 215.3L221.3 218.9L225.0 218.5L221.8 220.4L223.3 223.8L220.5 221.4L217.8 223.8L219.2 220.4L216.1 218.5L219.7 218.9Z" fill="#800d0d"/>
<path d="M231.9 222.0L232.7 225.6L236.3 225.2L233.2 227.1L234.6 230.5L231.9 228.1L229.1 230.5L230.6 227.1L227.4 225.2L231.1 225.6Z" fill="#800d0d"/>
<path d="M237.2 227.2L238.0 230.8L241.7 230.4L238.5 232.3L240.0 235.7L237.2 233.3L234.4 235.7L235.9 232.3L232.7 230.4L236.4 230.8Z" fill="#800d0d"/>
<path d="M242.6 233.1L243.4 236.7L247.0 236.3L243.8 238.2L245.3 241.6L242.6 239.2L239.8 241.6L241.3 238.2L238.1 236.3L241.7 236.7Z" fill="#800d0d"/>
<path d="M248.6 235.2L249.4 238.8L253.0 238.4L249.9 240.3L251.3 243.7L248.6 241.3L245.8 243.7L247.3 240.3L244.1 238.4L247.8 238.8Z" fill="#800d0d"/>
<path d="M252.6 238.6L253.4 242.2L257.0 241.8L253.9 243.7L255.3 247.1L252.6 244.7L249.8 247.1L251.3 243.7L248.1 241.8L251.8 242.2Z" fill="#800d0d"/>
<path d="M258.2 239.8L259.0 243.4L262.7 243.0L259.5 244.9L261.0 248.3L258.2 245.9L255.5 248.3L256.9 244.9L253.8 243.0L257.4 243.4Z" fill="#800d0d"/>
<path d="M262.6 245.8L263.4 249.4L267.0 249.0L263.9 250.9L265.3 254.3L262.6 251.9L259.8 254.3L261.3 250.9L258.1 249.0L261.8 249.4Z" fill="#800d0d"/>
<path d="M271.4 251.3L272.2 254.9L275.9 254.5L272.7 256.4L274.2 259.8L271.4 257.4L268.6 259.8L270.1 256.4L266.9 254.5L270.6 254.9Z" fill="#800d0d"/>
<path d="M272.9 255.1L273.7 258.7L277.4 258.3L274.2 260.2L275.7 263.6L272.9 261.2L270.1 263.6L271.6 260.2L268.4 258.3L272.1 258.7Z" fill="#800d0d"/>
<path d="M284.6 259.3L285.4 262.9L289.1 262.5L285.9 264.4L287.3 267.8L284.6 265.4L281.8 267.8L283.3 264.4L280.1 262.5L283.8 262.9Z" fill="#800d0d"/>
<path d="M292.6 262.8L293.4 266.4L297.1 266.0L293.9 267.9L295.4 271.3L292.6 268.9L289.8 271.3L291.3 267.9L288.1 266.0L291.8 266.4Z" fill="#800d0d"/>
<path d="M303.9 267.3L304.7 270.9L308.4 270.5L305.2 272.4L306.7 275.8L303.9 273.4L301.2 275.8L302.6 272.4L299.5 270.5L303.1 270.9Z" fill="#800d0d"/>
<text transform="translate(19.8 160.3) rotate(-90)" font-size="19.1" text-anchor="middle" font-family="Liberation Sans, sans-serif">K<tspan font-size="14.5" dy="4.5">c</tspan><tspan dy="-4.5">[<tspan font-family="Liberation Serif, serif" font-style="italic" font-size="22.5">α</tspan>] (fm</tspan><tspan font-size="14.8" dy="-9">9</tspan><tspan dy="9">)</tspan></text>
<text x="203.9" y="26.8" font-size="18.9" text-anchor="middle" font-family="Liberation Sans, sans-serif">(a)</text>
<clipPath id="clb"><rect x="432.8" y="8.0" width="266.5" height="304.9"/></clipPath>
<g clip-path="url(#clb)">
<path d="M454.4 29.4L487.5 29.4L492.6 42.2L499.4 59.1L504.5 71.0L511.3 84.6L518.1 99.9L524.9 115.2L530.4 127.0L540.6 138.9L552.4 152.4L566.0 166.0L577.9 176.2L591.5 183.9L601.3 190.0L616.0 200.1L630.7 205.6L643.6 217.6L658.3 231.4L669.3 236.9L677.6 239.7L680.3 248.5L699.3 253.4L699.3 282.5L613.2 282.5L607.7 263.6L597.6 251.6L587.5 245.2L587.5 239.7L581.0 232.3L572.8 224.0L564.3 215.3L554.1 205.1L544.0 194.9L537.2 188.9L535.5 184.7L530.4 177.9L520.2 166.0L510.0 152.4L496.0 134.7L489.2 125.4L483.3 115.2L479.0 105.0L474.0 91.4L468.9 77.8L463.8 60.8L458.7 43.9Z" fill="#aeaeae"/>
<path d="M432.8 9.9L436.1 13.3L439.5 16.5L442.8 19.7L446.1 22.7L449.5 25.7L452.8 28.6L456.1 31.4L459.4 34.2L462.8 36.8L466.1 39.5L469.4 42.0L472.8 44.5L476.1 46.9L479.4 49.3L482.8 51.6L486.1 53.9L489.4 56.1L492.8 58.3L496.1 60.4L499.4 62.5L502.8 64.5L506.1 66.5L509.4 68.5L512.8 70.4L516.1 72.3L519.4 74.2L522.7 76.0L526.1 77.8L529.4 79.5L532.7 81.3L536.1 83.0L539.4 84.7L542.7 86.3L546.1 87.9L549.4 89.5L552.7 91.1L556.1 92.7L559.4 94.2L562.7 95.7L566.0 97.2L569.4 98.6L572.7 100.1L576.0 101.5L579.4 102.9L582.7 104.3L586.0 105.6L589.4 107.0L592.7 108.3L596.0 109.6L599.4 110.9L602.7 112.2L606.0 113.5L609.4 114.7L612.7 115.9L616.0 117.1L619.4 118.3L622.7 119.5L626.0 120.7L629.3 121.9L632.7 123.0L636.0 124.1L639.3 125.3L642.7 126.4L646.0 127.5L649.3 128.6L652.7 129.6L656.0 130.7L659.3 131.7L662.7 132.8L666.0 133.8L669.3 134.8L672.6 135.8L676.0 136.8L679.3 137.8L682.6 138.8L686.0 139.8L689.3 140.7L692.6 141.7L696.0 142.6L699.3 143.6" fill="none" stroke="#000" stroke-width="1.0"/>
</g>
<rect x="432.8" y="8.0" width="266.5" height="304.9" fill="none" stroke="#000" stroke-width="1"/>
<text x="432.8" y="332.6" font-size="15.1" text-anchor="middle" font-family="Liberation Sans, sans-serif">4</text>
<path d="M449.5 312.9v-2.3M449.5 8.0v2.3" stroke="#000" stroke-width="1"/>
<path d="M466.1 312.9v-4.6M466.1 8.0v4.6" stroke="#000" stroke-width="1"/>
<text x="466.1" y="332.6" font-size="15.1" text-anchor="middle" font-family="Liberation Sans, sans-serif">5</text>
<path d="M482.8 312.9v-2.3M482.8 8.0v2.3" stroke="#000" stroke-width="1"/>
<path d="M499.4 312.9v-4.6M499.4 8.0v4.6" stroke="#000" stroke-width="1"/>
<text x="499.4" y="332.6" font-size="15.1" text-anchor="middle" font-family="Liberation Sans, sans-serif">6</text>
<path d="M516.1 312.9v-2.3M516.1 8.0v2.3" stroke="#000" stroke-width="1"/>
<path d="M532.7 312.9v-4.6M532.7 8.0v4.6" stroke="#000" stroke-width="1"/>
<text x="532.7" y="332.6" font-size="15.1" text-anchor="middle" font-family="Liberation Sans, sans-serif">7</text>
<path d="M549.4 312.9v-2.3M549.4 8.0v2.3" stroke="#000" stroke-width="1"/>
<path d="M566.0 312.9v-4.6M566.0 8.0v4.6" stroke="#000" stroke-width="1"/>
<text x="566.0" y="332.6" font-size="15.1" text-anchor="middle" font-family="Liberation Sans, sans-serif">8</text>
<path d="M582.7 312.9v-2.3M582.7 8.0v2.3" stroke="#000" stroke-width="1"/>
<path d="M599.4 312.9v-4.6M599.4 8.0v4.6" stroke="#000" stroke-width="1"/>
<text x="599.4" y="332.6" font-size="15.1" text-anchor="middle" font-family="Liberation Sans, sans-serif">9</text>
<path d="M616.0 312.9v-2.3M616.0 8.0v2.3" stroke="#000" stroke-width="1"/>
<path d="M632.7 312.9v-4.6M632.7 8.0v4.6" stroke="#000" stroke-width="1"/>
<text x="632.7" y="332.6" font-size="15.1" text-anchor="middle" font-family="Liberation Sans, sans-serif">10</text>
<path d="M649.3 312.9v-2.3M649.3 8.0v2.3" stroke="#000" stroke-width="1"/>
<path d="M666.0 312.9v-4.6M666.0 8.0v4.6" stroke="#000" stroke-width="1"/>
<text x="666.0" y="332.6" font-size="15.1" text-anchor="middle" font-family="Liberation Sans, sans-serif">11</text>
<path d="M682.6 312.9v-2.3M682.6 8.0v2.3" stroke="#000" stroke-width="1"/>
<text x="699.3" y="332.6" font-size="15.1" text-anchor="middle" font-family="Liberation Sans, sans-serif">12</text>
<text x="566.0" y="356.7" font-size="19.1" text-anchor="middle" font-family="Liberation Sans, sans-serif">T (MeV)</text>
<text x="423.8" y="318.6" font-size="15.1" text-anchor="end" font-family="Liberation Sans, sans-serif">20</text>
<path d="M432.8 252.2h4.6M699.3 252.2h-4.6" stroke="#000" stroke-width="1"/>
<text x="423.8" y="257.9" font-size="15.1" text-anchor="end" font-family="Liberation Sans, sans-serif">50</text>
<path d="M432.8 206.3h4.6M699.3 206.3h-4.6" stroke="#000" stroke-width="1"/>
<text x="423.8" y="212.0" font-size="15.1" text-anchor="end" font-family="Liberation Sans, sans-serif">100</text>
<path d="M432.8 160.4h4.6M699.3 160.4h-4.6" stroke="#000" stroke-width="1"/>
<text x="423.8" y="166.1" font-size="15.1" text-anchor="end" font-family="Liberation Sans, sans-serif">200</text>
<path d="M432.8 99.8h4.6M699.3 99.8h-4.6" stroke="#000" stroke-width="1"/>
<text x="423.8" y="105.5" font-size="15.1" text-anchor="end" font-family="Liberation Sans, sans-serif">500</text>
<path d="M432.8 53.9h4.6M699.3 53.9h-4.6" stroke="#000" stroke-width="1"/>
<text x="423.8" y="59.6" font-size="15.1" text-anchor="end" font-family="Liberation Sans, sans-serif">1000</text>
<text x="423.8" y="13.7" font-size="15.1" text-anchor="end" font-family="Liberation Sans, sans-serif">2000</text>
<path d="M432.8 286.1h2.3M699.3 286.1h-2.3" stroke="#000" stroke-width="1"/>
<path d="M432.8 267.0h2.3M699.3 267.0h-2.3" stroke="#000" stroke-width="1"/>
<path d="M432.8 240.2h2.3M699.3 240.2h-2.3" stroke="#000" stroke-width="1"/>
<path d="M432.8 230.0h2.3M699.3 230.0h-2.3" stroke="#000" stroke-width="1"/>
<path d="M432.8 221.1h2.3M699.3 221.1h-2.3" stroke="#000" stroke-width="1"/>
<path d="M432.8 213.3h2.3M699.3 213.3h-2.3" stroke="#000" stroke-width="1"/>
<path d="M432.8 133.6h2.3M699.3 133.6h-2.3" stroke="#000" stroke-width="1"/>
<path d="M432.8 114.6h2.3M699.3 114.6h-2.3" stroke="#000" stroke-width="1"/>
<path d="M432.8 87.7h2.3M699.3 87.7h-2.3" stroke="#000" stroke-width="1"/>
<path d="M432.8 77.5h2.3M699.3 77.5h-2.3" stroke="#000" stroke-width="1"/>
<path d="M432.8 68.7h2.3M699.3 68.7h-2.3" stroke="#000" stroke-width="1"/>
<path d="M432.8 60.9h2.3M699.3 60.9h-2.3" stroke="#000" stroke-width="1"/>
<path d="M470.4 28.2L476.4 45.6L482.8 60.5L487.4 74.1L492.1 86.3L496.8 98.2L501.1 108.0L505.8 117.7L510.8 126.8L517.4 135.2L525.1 143.6L534.1 152.1L542.7 160.1L549.1 166.9L554.7 173.7L559.7 178.8L566.0 184.5L568.4 189.8L575.7 195.7L582.7 200.8L594.0 205.7L599.4 210.8L604.7 215.9L610.7 221.4L614.7 225.2L620.3 230.2L624.7 234.7L633.5 239.3L633.5 244.2L635.0 248.5L646.7 252.5L654.7 256.8L666.0 282.5" fill="none" stroke="#000" stroke-width="0.95" stroke-dasharray="1.7 2.8"/>
<path d="M470.4 24.8L473.8 28.2L470.4 31.6L467.1 28.2Z" fill="#000" stroke="none" stroke-width="0" stroke-linejoin="round"/>
<path d="M476.4 42.2L479.8 45.6L476.4 49.0L473.1 45.6Z" fill="#000" stroke="none" stroke-width="0" stroke-linejoin="round"/>
<path d="M482.8 57.1L486.1 60.5L482.8 63.9L479.4 60.5Z" fill="#000" stroke="none" stroke-width="0" stroke-linejoin="round"/>
<path d="M487.4 70.8L490.8 74.1L487.4 77.4L484.1 74.1Z" fill="#000" stroke="none" stroke-width="0" stroke-linejoin="round"/>
<path d="M492.1 83.0L495.4 86.3L492.1 89.6L488.7 86.3Z" fill="#000" stroke="none" stroke-width="0" stroke-linejoin="round"/>
<path d="M496.8 94.9L500.1 98.2L496.8 101.5L493.4 98.2Z" fill="#000" stroke="none" stroke-width="0" stroke-linejoin="round"/>
<path d="M501.1 104.7L504.4 108.0L501.1 111.3L497.7 108.0Z" fill="#000" stroke="none" stroke-width="0" stroke-linejoin="round"/>
<path d="M505.8 114.4L509.1 117.7L505.8 121.0L502.4 117.7Z" fill="#000" stroke="none" stroke-width="0" stroke-linejoin="round"/>
<path d="M510.8 123.5L514.1 126.8L510.8 130.2L507.4 126.8Z" fill="#000" stroke="none" stroke-width="0" stroke-linejoin="round"/>
<path d="M517.4 131.8L520.8 135.2L517.4 138.5L514.1 135.2Z" fill="#000" stroke="none" stroke-width="0" stroke-linejoin="round"/>
<path d="M525.1 140.2L528.4 143.6L525.1 146.9L521.7 143.6Z" fill="#000" stroke="none" stroke-width="0" stroke-linejoin="round"/>
<path d="M534.1 148.8L537.4 152.1L534.1 155.4L530.7 152.1Z" fill="#000" stroke="none" stroke-width="0" stroke-linejoin="round"/>
<path d="M542.7 156.8L546.1 160.1L542.7 163.4L539.4 160.1Z" fill="#000" stroke="none" stroke-width="0" stroke-linejoin="round"/>
<path d="M549.1 163.6L552.4 166.9L549.1 170.2L545.7 166.9Z" fill="#000" stroke="none" stroke-width="0" stroke-linejoin="round"/>
<path d="M554.7 170.3L558.1 173.7L554.7 177.0L551.4 173.7Z" fill="#000" stroke="none" stroke-width="0" stroke-linejoin="round"/>
<path d="M559.7 175.5L563.1 178.8L559.7 182.2L556.4 178.8Z" fill="#000" stroke="none" stroke-width="0" stroke-linejoin="round"/>
<path d="M566.0 181.2L569.4 184.5L566.0 187.8L562.7 184.5Z" fill="#000" stroke="none" stroke-width="0" stroke-linejoin="round"/>
<path d="M568.4 186.5L571.7 189.8L568.4 193.2L565.0 189.8Z" fill="#000" stroke="none" stroke-width="0" stroke-linejoin="round"/>
<path d="M575.7 192.3L579.1 195.7L575.7 199.0L572.4 195.7Z" fill="#000" stroke="none" stroke-width="0" stroke-linejoin="round"/>
<path d="M582.7 197.5L586.1 200.8L582.7 204.2L579.4 200.8Z" fill="#000" stroke="none" stroke-width="0" stroke-linejoin="round"/>
<path d="M594.0 202.3L597.4 205.7L594.0 209.0L590.7 205.7Z" fill="#000" stroke="none" stroke-width="0" stroke-linejoin="round"/>
<path d="M599.4 207.5L602.7 210.8L599.4 214.2L596.0 210.8Z" fill="#000" stroke="none" stroke-width="0" stroke-linejoin="round"/>
<path d="M604.7 212.6L608.0 215.9L604.7 219.2L601.3 215.9Z" fill="#000" stroke="none" stroke-width="0" stroke-linejoin="round"/>
<path d="M610.7 218.1L614.0 221.4L610.7 224.8L607.3 221.4Z" fill="#000" stroke="none" stroke-width="0" stroke-linejoin="round"/>
<path d="M614.7 221.8L618.0 225.2L614.7 228.5L611.3 225.2Z" fill="#000" stroke="none" stroke-width="0" stroke-linejoin="round"/>
<path d="M620.3 226.8L623.7 230.2L620.3 233.5L617.0 230.2Z" fill="#000" stroke="none" stroke-width="0" stroke-linejoin="round"/>
<path d="M624.7 231.3L628.0 234.7L624.7 238.0L621.3 234.7Z" fill="#000" stroke="none" stroke-width="0" stroke-linejoin="round"/>
<path d="M633.5 236.0L636.9 239.3L633.5 242.7L630.2 239.3Z" fill="#000" stroke="none" stroke-width="0" stroke-linejoin="round"/>
<path d="M635.0 245.2L638.4 248.5L635.0 251.8L631.7 248.5Z" fill="#000" stroke="none" stroke-width="0" stroke-linejoin="round"/>
<path d="M646.7 249.2L650.0 252.5L646.7 255.8L643.3 252.5Z" fill="#000" stroke="none" stroke-width="0" stroke-linejoin="round"/>
<path d="M654.7 253.5L658.0 256.8L654.7 260.2L651.3 256.8Z" fill="#000" stroke="none" stroke-width="0" stroke-linejoin="round"/>
<path d="M666.0 279.1L669.3 282.5L666.0 285.9L662.6 282.5Z" fill="#000" stroke="none" stroke-width="0" stroke-linejoin="round"/>
<path d="M633.5 240.8L636.9 244.2L633.5 247.5L630.2 244.2Z" fill="#000" stroke="none" stroke-width="0" stroke-linejoin="round"/>
<circle cx="470.4" cy="65.1" r="3.0" fill="#ff0000" stroke="none" stroke-width="0"/>
<circle cx="476.4" cy="72.7" r="3.0" fill="#ff0000" stroke="none" stroke-width="0"/>
<circle cx="482.8" cy="80.4" r="3.0" fill="#ff0000" stroke="none" stroke-width="0"/>
<circle cx="487.4" cy="86.4" r="3.0" fill="#ff0000" stroke="none" stroke-width="0"/>
<circle cx="492.1" cy="92.4" r="3.0" fill="#ff0000" stroke="none" stroke-width="0"/>
<circle cx="496.8" cy="97.0" r="3.0" fill="#ff0000" stroke="none" stroke-width="0"/>
<circle cx="501.1" cy="103.0" r="3.0" fill="#ff0000" stroke="none" stroke-width="0"/>
<circle cx="505.8" cy="107.8" r="3.0" fill="#ff0000" stroke="none" stroke-width="0"/>
<circle cx="510.8" cy="116.0" r="3.0" fill="#ff0000" stroke="none" stroke-width="0"/>
<circle cx="517.4" cy="123.2" r="3.0" fill="#ff0000" stroke="none" stroke-width="0"/>
<circle cx="525.1" cy="131.7" r="3.0" fill="#ff0000" stroke="none" stroke-width="0"/>
<circle cx="534.1" cy="141.9" r="3.0" fill="#ff0000" stroke="none" stroke-width="0"/>
<circle cx="542.7" cy="151.6" r="3.0" fill="#ff0000" stroke="none" stroke-width="0"/>
<circle cx="549.1" cy="159.5" r="3.0" fill="#ff0000" stroke="none" stroke-width="0"/>
<circle cx="554.7" cy="165.3" r="3.0" fill="#ff0000" stroke="none" stroke-width="0"/>
<circle cx="559.7" cy="171.1" r="3.0" fill="#ff0000" stroke="none" stroke-width="0"/>
<circle cx="566.0" cy="177.9" r="3.0" fill="#ff0000" stroke="none" stroke-width="0"/>
<circle cx="568.4" cy="184.7" r="3.0" fill="#ff0000" stroke="none" stroke-width="0"/>
<circle cx="575.7" cy="194.0" r="3.0" fill="#ff0000" stroke="none" stroke-width="0"/>
<circle cx="582.7" cy="203.3" r="3.0" fill="#ff0000" stroke="none" stroke-width="0"/>
<circle cx="594.0" cy="213.1" r="3.0" fill="#ff0000" stroke="none" stroke-width="0"/>
<circle cx="599.4" cy="219.9" r="3.0" fill="#ff0000" stroke="none" stroke-width="0"/>
<circle cx="604.7" cy="226.8" r="3.0" fill="#ff0000" stroke="none" stroke-width="0"/>
<circle cx="610.7" cy="231.9" r="3.0" fill="#ff0000" stroke="none" stroke-width="0"/>
<circle cx="614.7" cy="236.0" r="3.0" fill="#ff0000" stroke="none" stroke-width="0"/>
<circle cx="620.3" cy="239.3" r="3.0" fill="#ff0000" stroke="none" stroke-width="0"/>
<circle cx="624.7" cy="247.4" r="3.0" fill="#ff0000" stroke="none" stroke-width="0"/>
<circle cx="633.5" cy="261.7" r="3.0" fill="#ff0000" stroke="none" stroke-width="0"/>
<circle cx="635.0" cy="262.5" r="3.0" fill="#ff0000" stroke="none" stroke-width="0"/>
<circle cx="646.7" cy="269.4" r="3.0" fill="#ff0000" stroke="none" stroke-width="0"/>
<circle cx="654.7" cy="276.1" r="3.0" fill="#ff0000" stroke="none" stroke-width="0"/>
<circle cx="666.0" cy="283.2" r="3.0" fill="#ff0000" stroke="none" stroke-width="0"/>
<path d="M470.4 59.2L473.7 65.2L467.2 65.2Z" fill="#0000cd"/>
<path d="M476.4 66.7L479.7 72.8L473.2 72.8Z" fill="#0000cd"/>
<path d="M482.8 74.0L486.0 80.0L479.5 80.0Z" fill="#0000cd"/>
<path d="M487.4 79.9L490.7 86.0L484.2 86.0Z" fill="#0000cd"/>
<path d="M492.1 85.9L495.3 92.0L488.8 92.0Z" fill="#0000cd"/>
<path d="M496.8 90.4L500.0 96.5L493.5 96.5Z" fill="#0000cd"/>
<path d="M501.1 96.4L504.3 102.5L497.8 102.5Z" fill="#0000cd"/>
<path d="M505.8 101.0L509.0 107.1L502.5 107.1Z" fill="#0000cd"/>
<path d="M510.8 109.2L514.0 115.3L507.5 115.3Z" fill="#0000cd"/>
<path d="M517.4 116.8L520.7 122.8L514.2 122.8Z" fill="#0000cd"/>
<path d="M525.1 124.8L528.3 130.8L521.8 130.8Z" fill="#0000cd"/>
<path d="M534.1 134.4L537.3 140.6L530.8 140.6Z" fill="#0000cd"/>
<path d="M542.7 143.9L546.0 150.1L539.5 150.1Z" fill="#0000cd"/>
<path d="M549.1 151.4L552.3 157.6L545.8 157.6Z" fill="#0000cd"/>
<path d="M554.7 157.0L558.0 163.2L551.5 163.2Z" fill="#0000cd"/>
<path d="M559.7 162.6L563.0 168.8L556.5 168.8Z" fill="#0000cd"/>
<path d="M566.0 169.8L569.3 175.9L562.8 175.9Z" fill="#0000cd"/>
<path d="M568.4 175.8L571.6 181.9L565.1 181.9Z" fill="#0000cd"/>
<path d="M575.7 184.1L579.0 190.2L572.5 190.2Z" fill="#0000cd"/>
<path d="M582.7 193.2L586.0 199.4L579.5 199.4Z" fill="#0000cd"/>
<path d="M594.0 202.8L597.3 208.9L590.8 208.9Z" fill="#0000cd"/>
<path d="M599.4 208.9L602.6 215.1L596.1 215.1Z" fill="#0000cd"/>
<path d="M604.7 215.5L607.9 221.7L601.4 221.7Z" fill="#0000cd"/>
<path d="M610.7 220.3L613.9 226.5L607.4 226.5Z" fill="#0000cd"/>
<path d="M614.7 224.3L617.9 230.5L611.4 230.5Z" fill="#0000cd"/>
<path d="M620.3 228.8L623.6 235.0L617.1 235.0Z" fill="#0000cd"/>
<path d="M624.7 236.2L627.9 242.4L621.4 242.4Z" fill="#0000cd"/>
<path d="M633.5 246.8L636.8 252.9L630.3 252.9Z" fill="#0000cd"/>
<path d="M635.0 247.4L638.3 253.6L631.8 253.6Z" fill="#0000cd"/>
<path d="M646.7 260.1L649.9 266.2L643.4 266.2Z" fill="#0000cd"/>
<path d="M654.7 267.3L657.9 273.4L651.4 273.4Z" fill="#0000cd"/>
<path d="M666.0 276.1L669.2 282.2L662.7 282.2Z" fill="#0000cd"/>
<rect x="467.4" y="309.8" width="6.0" height="6.0" fill="#ff6347" stroke="none" stroke-width="0"/>
<rect x="473.4" y="309.8" width="6.0" height="6.0" fill="#ff6347" stroke="none" stroke-width="0"/>
<rect x="479.8" y="309.8" width="6.0" height="6.0" fill="#ff6347" stroke="none" stroke-width="0"/>
<rect x="484.4" y="309.8" width="6.0" height="6.0" fill="#ff6347" stroke="none" stroke-width="0"/>
<rect x="489.1" y="309.8" width="6.0" height="6.0" fill="#ff6347" stroke="none" stroke-width="0"/>
<rect x="493.8" y="309.8" width="6.0" height="6.0" fill="#ff6347" stroke="none" stroke-width="0"/>
<rect x="498.1" y="309.8" width="6.0" height="6.0" fill="#ff6347" stroke="none" stroke-width="0"/>
<rect x="502.8" y="309.8" width="6.0" height="6.0" fill="#ff6347" stroke="none" stroke-width="0"/>
<rect x="507.8" y="309.8" width="6.0" height="6.0" fill="#ff6347" stroke="none" stroke-width="0"/>
<rect x="514.4" y="309.8" width="6.0" height="6.0" fill="#ff6347" stroke="none" stroke-width="0"/>
<rect x="522.1" y="309.8" width="6.0" height="6.0" fill="#ff6347" stroke="none" stroke-width="0"/>
<rect x="531.1" y="309.8" width="6.0" height="6.0" fill="#ff6347" stroke="none" stroke-width="0"/>
<rect x="539.7" y="309.8" width="6.0" height="6.0" fill="#ff6347" stroke="none" stroke-width="0"/>
<rect x="546.1" y="309.8" width="6.0" height="6.0" fill="#ff6347" stroke="none" stroke-width="0"/>
<rect x="551.7" y="309.8" width="6.0" height="6.0" fill="#ff6347" stroke="none" stroke-width="0"/>
<rect x="556.7" y="309.8" width="6.0" height="6.0" fill="#ff6347" stroke="none" stroke-width="0"/>
<rect x="563.0" y="309.8" width="6.0" height="6.0" fill="#ff6347" stroke="none" stroke-width="0"/>
<rect x="565.4" y="309.8" width="6.0" height="6.0" fill="#ff6347" stroke="none" stroke-width="0"/>
<rect x="572.7" y="309.8" width="6.0" height="6.0" fill="#ff6347" stroke="none" stroke-width="0"/>
<rect x="579.7" y="309.8" width="6.0" height="6.0" fill="#ff6347" stroke="none" stroke-width="0"/>
<rect x="591.0" y="309.8" width="6.0" height="6.0" fill="#ff6347" stroke="none" stroke-width="0"/>
<rect x="596.4" y="309.8" width="6.0" height="6.0" fill="#ff6347" stroke="none" stroke-width="0"/>
<rect x="601.7" y="309.8" width="6.0" height="6.0" fill="#ff6347" stroke="none" stroke-width="0"/>
<rect x="607.7" y="309.8" width="6.0" height="6.0" fill="#ff6347" stroke="none" stroke-width="0"/>
<rect x="611.7" y="309.8" width="6.0" height="6.0" fill="#ff6347" stroke="none" stroke-width="0"/>
<rect x="617.3" y="309.8" width="6.0" height="6.0" fill="#ff6347" stroke="none" stroke-width="0"/>
<rect x="621.7" y="309.8" width="6.0" height="6.0" fill="#ff6347" stroke="none" stroke-width="0"/>
<rect x="630.5" y="309.8" width="6.0" height="6.0" fill="#ff6347" stroke="none" stroke-width="0"/>
<rect x="632.0" y="309.8" width="6.0" height="6.0" fill="#ff6347" stroke="none" stroke-width="0"/>
<rect x="643.7" y="309.8" width="6.0" height="6.0" fill="#ff6347" stroke="none" stroke-width="0"/>
<rect x="651.7" y="309.8" width="6.0" height="6.0" fill="#ff6347" stroke="none" stroke-width="0"/>
<rect x="663.0" y="309.8" width="6.0" height="6.0" fill="#ff6347" stroke="none" stroke-width="0"/>
<path d="M470.4 310.4L472.8 312.8L470.4 315.2L468.1 312.8Z" fill="#fff" stroke="#4b0a90" stroke-width="1.05" stroke-linejoin="round"/>
<path d="M476.4 310.4L478.8 312.8L476.4 315.2L474.1 312.8Z" fill="#fff" stroke="#4b0a90" stroke-width="1.05" stroke-linejoin="round"/>
<path d="M482.8 310.4L485.1 312.8L482.8 315.2L480.4 312.8Z" fill="#fff" stroke="#4b0a90" stroke-width="1.05" stroke-linejoin="round"/>
<path d="M487.4 310.4L489.8 312.8L487.4 315.2L485.1 312.8Z" fill="#fff" stroke="#4b0a90" stroke-width="1.05" stroke-linejoin="round"/>
<path d="M492.1 310.4L494.4 312.8L492.1 315.2L489.7 312.8Z" fill="#fff" stroke="#4b0a90" stroke-width="1.05" stroke-linejoin="round"/>
<path d="M496.8 310.4L499.1 312.8L496.8 315.2L494.4 312.8Z" fill="#fff" stroke="#4b0a90" stroke-width="1.05" stroke-linejoin="round"/>
<path d="M501.1 310.4L503.4 312.8L501.1 315.2L498.7 312.8Z" fill="#fff" stroke="#4b0a90" stroke-width="1.05" stroke-linejoin="round"/>
<path d="M505.8 310.4L508.1 312.8L505.8 315.2L503.4 312.8Z" fill="#fff" stroke="#4b0a90" stroke-width="1.05" stroke-linejoin="round"/>
<path d="M510.8 310.4L513.1 312.8L510.8 315.2L508.4 312.8Z" fill="#fff" stroke="#4b0a90" stroke-width="1.05" stroke-linejoin="round"/>
<path d="M517.4 310.4L519.8 312.8L517.4 315.2L515.1 312.8Z" fill="#fff" stroke="#4b0a90" stroke-width="1.05" stroke-linejoin="round"/>
<path d="M525.1 310.4L527.4 312.8L525.1 315.2L522.7 312.8Z" fill="#fff" stroke="#4b0a90" stroke-width="1.05" stroke-linejoin="round"/>
<path d="M534.1 310.4L536.4 312.8L534.1 315.2L531.7 312.8Z" fill="#fff" stroke="#4b0a90" stroke-width="1.05" stroke-linejoin="round"/>
<path d="M542.7 310.4L545.1 312.8L542.7 315.2L540.4 312.8Z" fill="#fff" stroke="#4b0a90" stroke-width="1.05" stroke-linejoin="round"/>
<path d="M549.1 310.4L551.4 312.8L549.1 315.2L546.7 312.8Z" fill="#fff" stroke="#4b0a90" stroke-width="1.05" stroke-linejoin="round"/>
<path d="M554.7 310.4L557.1 312.8L554.7 315.2L552.4 312.8Z" fill="#fff" stroke="#4b0a90" stroke-width="1.05" stroke-linejoin="round"/>
<path d="M559.7 310.4L562.1 312.8L559.7 315.2L557.4 312.8Z" fill="#fff" stroke="#4b0a90" stroke-width="1.05" stroke-linejoin="round"/>
<path d="M566.0 310.4L568.4 312.8L566.0 315.2L563.7 312.8Z" fill="#fff" stroke="#4b0a90" stroke-width="1.05" stroke-linejoin="round"/>
<path d="M568.4 310.4L570.7 312.8L568.4 315.2L566.0 312.8Z" fill="#fff" stroke="#4b0a90" stroke-width="1.05" stroke-linejoin="round"/>
<path d="M575.7 310.4L578.1 312.8L575.7 315.2L573.4 312.8Z" fill="#fff" stroke="#4b0a90" stroke-width="1.05" stroke-linejoin="round"/>
<path d="M582.7 310.4L585.1 312.8L582.7 315.2L580.4 312.8Z" fill="#fff" stroke="#4b0a90" stroke-width="1.05" stroke-linejoin="round"/>
<path d="M594.0 310.4L596.4 312.8L594.0 315.2L591.7 312.8Z" fill="#fff" stroke="#4b0a90" stroke-width="1.05" stroke-linejoin="round"/>
<path d="M599.4 310.4L601.7 312.8L599.4 315.2L597.0 312.8Z" fill="#fff" stroke="#4b0a90" stroke-width="1.05" stroke-linejoin="round"/>
<path d="M604.7 310.4L607.0 312.8L604.7 315.2L602.3 312.8Z" fill="#fff" stroke="#4b0a90" stroke-width="1.05" stroke-linejoin="round"/>
<path d="M610.7 310.4L613.0 312.8L610.7 315.2L608.3 312.8Z" fill="#fff" stroke="#4b0a90" stroke-width="1.05" stroke-linejoin="round"/>
<path d="M614.7 310.4L617.0 312.8L614.7 315.2L612.3 312.8Z" fill="#fff" stroke="#4b0a90" stroke-width="1.05" stroke-linejoin="round"/>
<path d="M620.3 310.4L622.7 312.8L620.3 315.2L618.0 312.8Z" fill="#fff" stroke="#4b0a90" stroke-width="1.05" stroke-linejoin="round"/>
<path d="M624.7 310.4L627.0 312.8L624.7 315.2L622.3 312.8Z" fill="#fff" stroke="#4b0a90" stroke-width="1.05" stroke-linejoin="round"/>
<path d="M633.5 310.4L635.9 312.8L633.5 315.2L631.2 312.8Z" fill="#fff" stroke="#4b0a90" stroke-width="1.05" stroke-linejoin="round"/>
<path d="M635.0 310.4L637.4 312.8L635.0 315.2L632.7 312.8Z" fill="#fff" stroke="#4b0a90" stroke-width="1.05" stroke-linejoin="round"/>
<path d="M646.7 310.4L649.0 312.8L646.7 315.2L644.3 312.8Z" fill="#fff" stroke="#4b0a90" stroke-width="1.05" stroke-linejoin="round"/>
<path d="M654.7 310.4L657.0 312.8L654.7 315.2L652.3 312.8Z" fill="#fff" stroke="#4b0a90" stroke-width="1.05" stroke-linejoin="round"/>
<path d="M666.0 310.4L668.3 312.8L666.0 315.2L663.6 312.8Z" fill="#fff" stroke="#4b0a90" stroke-width="1.05" stroke-linejoin="round"/>
<path d="M633.8 310.4L636.2 312.8L633.8 315.2L631.5 312.8Z" fill="#4b0a90" stroke="#4b0a90" stroke-width="1.05" stroke-linejoin="round"/>
<circle cx="634.0" cy="312.8" r="0.5" fill="#b9a3d6" stroke="none" stroke-width="0"/>
<circle cx="470.4" cy="31.5" r="2.5" fill="#fff" stroke="#00ced1" stroke-width="1.05"/>
<circle cx="476.4" cy="35.9" r="2.5" fill="#fff" stroke="#00ced1" stroke-width="1.05"/>
<circle cx="482.8" cy="41.3" r="2.5" fill="#fff" stroke="#00ced1" stroke-width="1.05"/>
<circle cx="487.4" cy="45.9" r="2.5" fill="#fff" stroke="#00ced1" stroke-width="1.05"/>
<circle cx="492.1" cy="51.5" r="2.5" fill="#fff" stroke="#00ced1" stroke-width="1.05"/>
<circle cx="496.8" cy="56.6" r="2.5" fill="#fff" stroke="#00ced1" stroke-width="1.05"/>
<circle cx="501.1" cy="65.4" r="2.5" fill="#fff" stroke="#00ced1" stroke-width="1.05"/>
<circle cx="505.8" cy="73.6" r="2.5" fill="#fff" stroke="#00ced1" stroke-width="1.05"/>
<circle cx="510.8" cy="87.2" r="2.5" fill="#fff" stroke="#00ced1" stroke-width="1.05"/>
<circle cx="517.4" cy="100.4" r="2.5" fill="#fff" stroke="#00ced1" stroke-width="1.05"/>
<circle cx="525.1" cy="114.1" r="2.5" fill="#fff" stroke="#00ced1" stroke-width="1.05"/>
<circle cx="534.1" cy="129.3" r="2.5" fill="#fff" stroke="#00ced1" stroke-width="1.05"/>
<circle cx="542.7" cy="144.0" r="2.5" fill="#fff" stroke="#00ced1" stroke-width="1.05"/>
<circle cx="549.1" cy="159.7" r="2.5" fill="#fff" stroke="#00ced1" stroke-width="1.05"/>
<circle cx="554.7" cy="165.5" r="2.5" fill="#fff" stroke="#00ced1" stroke-width="1.05"/>
<circle cx="559.7" cy="177.6" r="2.5" fill="#fff" stroke="#00ced1" stroke-width="1.05"/>
<circle cx="566.0" cy="184.2" r="2.5" fill="#fff" stroke="#00ced1" stroke-width="1.05"/>
<circle cx="568.4" cy="206.8" r="2.5" fill="#fff" stroke="#00ced1" stroke-width="1.05"/>
<circle cx="575.7" cy="220.5" r="2.5" fill="#fff" stroke="#00ced1" stroke-width="1.05"/>
<circle cx="582.7" cy="236.0" r="2.5" fill="#fff" stroke="#00ced1" stroke-width="1.05"/>
<circle cx="594.0" cy="238.2" r="2.5" fill="#fff" stroke="#00ced1" stroke-width="1.05"/>
<circle cx="599.4" cy="248.5" r="2.5" fill="#fff" stroke="#00ced1" stroke-width="1.05"/>
<circle cx="604.7" cy="259.9" r="2.5" fill="#fff" stroke="#00ced1" stroke-width="1.05"/>
<circle cx="610.7" cy="258.6" r="2.5" fill="#fff" stroke="#00ced1" stroke-width="1.05"/>
<circle cx="614.7" cy="264.1" r="2.5" fill="#fff" stroke="#00ced1" stroke-width="1.05"/>
<circle cx="620.3" cy="258.6" r="2.5" fill="#fff" stroke="#00ced1" stroke-width="1.05"/>
<circle cx="624.7" cy="276.4" r="2.5" fill="#fff" stroke="#00ced1" stroke-width="1.05"/>
<circle cx="633.5" cy="283.8" r="2.5" fill="#fff" stroke="#00ced1" stroke-width="1.05"/>
<circle cx="635.0" cy="298.9" r="2.5" fill="#fff" stroke="#00ced1" stroke-width="1.05"/>
<circle cx="646.7" cy="293.5" r="2.5" fill="#fff" stroke="#00ced1" stroke-width="1.05"/>
<circle cx="654.7" cy="296.7" r="2.5" fill="#fff" stroke="#00ced1" stroke-width="1.05"/>
<circle cx="666.0" cy="295.4" r="2.5" fill="#fff" stroke="#00ced1" stroke-width="1.05"/>
<circle cx="633.5" cy="302.7" r="2.5" fill="#fff" stroke="#00ced1" stroke-width="1.05"/>
<path d="M470.4 67.2L471.2 70.8L474.9 70.4L471.7 72.3L473.2 75.7L470.4 73.3L467.7 75.7L469.1 72.3L466.0 70.4L469.6 70.8Z" fill="#800d0d"/>
<path d="M476.4 74.8L477.2 78.4L480.9 78.0L477.7 79.9L479.2 83.3L476.4 80.9L473.7 83.3L475.1 79.9L472.0 78.0L475.6 78.4Z" fill="#800d0d"/>
<path d="M482.8 83.3L483.6 86.9L487.2 86.5L484.1 88.4L485.5 91.8L482.8 89.4L480.0 91.8L481.5 88.4L478.3 86.5L482.0 86.9Z" fill="#800d0d"/>
<path d="M487.4 89.3L488.2 92.9L491.9 92.5L488.7 94.4L490.2 97.8L487.4 95.4L484.7 97.8L486.1 94.4L483.0 92.5L486.6 92.9Z" fill="#800d0d"/>
<path d="M492.1 96.0L492.9 99.6L496.6 99.2L493.4 101.1L494.9 104.5L492.1 102.1L489.3 104.5L490.8 101.1L487.6 99.2L491.3 99.6Z" fill="#800d0d"/>
<path d="M496.8 102.0L497.6 105.6L501.2 105.2L498.1 107.1L499.5 110.5L496.8 108.1L494.0 110.5L495.5 107.1L492.3 105.2L496.0 105.6Z" fill="#800d0d"/>
<path d="M501.1 109.6L501.9 113.2L505.6 112.8L502.4 114.7L503.9 118.1L501.1 115.7L498.3 118.1L499.8 114.7L496.6 112.8L500.3 113.2Z" fill="#800d0d"/>
<path d="M505.8 115.6L506.6 119.2L510.2 118.8L507.1 120.7L508.5 124.1L505.8 121.7L503.0 124.1L504.5 120.7L501.3 118.8L505.0 119.2Z" fill="#800d0d"/>
<path d="M510.8 125.1L511.6 128.7L515.2 128.3L512.0 130.2L513.5 133.6L510.8 131.2L508.0 133.6L509.5 130.2L506.3 128.3L510.0 128.7Z" fill="#800d0d"/>
<path d="M517.4 134.2L518.2 137.8L521.9 137.4L518.7 139.3L520.2 142.7L517.4 140.3L514.7 142.7L516.1 139.3L512.9 137.4L516.6 137.8Z" fill="#800d0d"/>
<path d="M525.1 143.5L525.9 147.1L529.5 146.7L526.4 148.6L527.8 152.0L525.1 149.6L522.3 152.0L523.8 148.6L520.6 146.7L524.3 147.1Z" fill="#800d0d"/>
<path d="M534.1 154.0L534.9 157.6L538.5 157.2L535.4 159.1L536.8 162.5L534.1 160.1L531.3 162.5L532.8 159.1L529.6 157.2L533.3 157.6Z" fill="#800d0d"/>
<path d="M542.7 163.5L543.5 167.1L547.2 166.7L544.0 168.6L545.5 172.0L542.7 169.6L540.0 172.0L541.4 168.6L538.3 166.7L541.9 167.1Z" fill="#800d0d"/>
<path d="M549.1 170.7L549.9 174.3L553.5 173.9L550.4 175.8L551.8 179.2L549.1 176.8L546.3 179.2L547.8 175.8L544.6 173.9L548.3 174.3Z" fill="#800d0d"/>
<path d="M554.7 176.6L555.5 180.2L559.2 179.8L556.0 181.7L557.5 185.1L554.7 182.7L552.0 185.1L553.4 181.7L550.3 179.8L553.9 180.2Z" fill="#800d0d"/>
<path d="M559.7 182.5L560.5 186.1L564.2 185.7L561.0 187.6L562.5 191.0L559.7 188.6L557.0 191.0L558.4 187.6L555.3 185.7L558.9 186.1Z" fill="#800d0d"/>
<path d="M566.0 188.5L566.9 192.1L570.5 191.7L567.3 193.6L568.8 197.0L566.0 194.6L563.3 197.0L564.8 193.6L561.6 191.7L565.2 192.1Z" fill="#800d0d"/>
<path d="M568.4 193.6L569.2 197.2L572.9 196.8L569.7 198.7L571.1 202.1L568.4 199.7L565.6 202.1L567.1 198.7L563.9 196.8L567.6 197.2Z" fill="#800d0d"/>
<path d="M575.7 202.0L576.5 205.6L580.2 205.2L577.0 207.1L578.5 210.5L575.7 208.1L572.9 210.5L574.4 207.1L571.2 205.2L574.9 205.6Z" fill="#800d0d"/>
<path d="M582.7 208.8L583.5 212.4L587.2 212.0L584.0 213.9L585.5 217.3L582.7 214.9L579.9 217.3L581.4 213.9L578.2 212.0L581.9 212.4Z" fill="#800d0d"/>
<path d="M594.0 217.4L594.8 221.0L598.5 220.6L595.3 222.5L596.8 225.9L594.0 223.5L591.3 225.9L592.7 222.5L589.6 220.6L593.2 221.0Z" fill="#800d0d"/>
<path d="M599.4 222.5L600.2 226.1L603.8 225.7L600.7 227.6L602.1 231.0L599.4 228.6L596.6 231.0L598.1 227.6L594.9 225.7L598.6 226.1Z" fill="#800d0d"/>
<path d="M604.7 228.0L605.5 231.6L609.2 231.2L606.0 233.1L607.5 236.5L604.7 234.1L601.9 236.5L603.4 233.1L600.2 231.2L603.9 231.6Z" fill="#800d0d"/>
<path d="M610.7 231.3L611.5 234.9L615.2 234.5L612.0 236.4L613.5 239.8L610.7 237.4L607.9 239.8L609.4 236.4L606.2 234.5L609.9 234.9Z" fill="#800d0d"/>
<path d="M614.7 234.6L615.5 238.2L619.2 237.8L616.0 239.7L617.4 243.1L614.7 240.7L611.9 243.1L613.4 239.7L610.2 237.8L613.9 238.2Z" fill="#800d0d"/>
<path d="M620.3 237.7L621.2 241.3L624.8 240.9L621.6 242.8L623.1 246.2L620.3 243.8L617.6 246.2L619.1 242.8L615.9 240.9L619.5 241.3Z" fill="#800d0d"/>
<path d="M624.7 242.7L625.5 246.3L629.1 245.9L626.0 247.8L627.4 251.2L624.7 248.8L621.9 251.2L623.4 247.8L620.2 245.9L623.9 246.3Z" fill="#800d0d"/>
<path d="M633.5 249.7L634.3 253.3L638.0 252.9L634.8 254.8L636.3 258.2L633.5 255.8L630.7 258.2L632.2 254.8L629.0 252.9L632.7 253.3Z" fill="#800d0d"/>
<path d="M635.0 252.4L635.8 256.0L639.5 255.6L636.3 257.5L637.8 260.9L635.0 258.5L632.2 260.9L633.7 257.5L630.5 255.6L634.2 256.0Z" fill="#800d0d"/>
<path d="M646.7 258.9L647.5 262.5L651.1 262.1L648.0 264.0L649.4 267.4L646.7 265.0L643.9 267.4L645.4 264.0L642.2 262.1L645.9 262.5Z" fill="#800d0d"/>
<path d="M654.7 264.4L655.5 268.0L659.1 267.6L656.0 269.5L657.4 272.9L654.7 270.5L651.9 272.9L653.4 269.5L650.2 267.6L653.9 268.0Z" fill="#800d0d"/>
<path d="M666.0 269.9L666.8 273.5L670.5 273.1L667.3 275.0L668.8 278.4L666.0 276.0L663.2 278.4L664.7 275.0L661.5 273.1L665.2 273.5Z" fill="#800d0d"/>
<text transform="translate(376.2 161.0) rotate(-90)" font-size="19.1" text-anchor="middle" font-family="Liberation Sans, sans-serif">K<tspan font-size="14.5" dy="4.5">c</tspan><tspan dy="-4.5">[d] (fm</tspan><tspan font-size="14.8" dy="-9">3</tspan><tspan dy="9">)</tspan></text>
<text x="566.0" y="26.8" font-size="18.9" text-anchor="middle" font-family="Liberation Sans, sans-serif">(b)</text>
<clipPath id="clc"><rect x="70.4" y="388.6" width="266.9" height="305.1"/></clipPath>
<g clip-path="url(#clc)">
<path d="M90.9 415.4L125.4 415.4L130.8 429.0L137.6 445.9L144.4 462.9L151.2 479.9L155.5 490.0L164.0 507.5L170.7 519.7L178.7 529.6L187.6 537.5L196.5 545.4L205.4 553.4L214.9 562.9L224.8 571.8L233.7 578.3L236.7 585.7L244.6 591.6L254.5 598.6L264.4 602.5L269.4 605.5L275.0 610.4L278.5 615.5L293.7 628.2L306.5 637.1L315.0 639.6L318.1 642.0L319.1 650.0L337.3 656.1L337.3 675.6L250.4 675.6L244.2 662.3L236.0 655.1L225.8 650.0L225.8 642.8L217.6 635.6L207.3 623.3L197.9 610.0L189.4 600.4L180.9 591.9L173.3 583.4L170.7 578.3L164.0 569.8L155.5 557.9L147.0 544.3L138.5 532.4L130.0 520.6L126.6 515.0L120.7 502.0L115.6 488.4L110.5 474.8L105.4 461.2L100.3 445.9L95.2 429.0Z" fill="#aeaeae"/>
<path d="M70.4 412.9L73.7 417.0L77.1 420.8L80.4 424.6L83.7 428.2L87.1 431.8L90.4 435.2L93.8 438.5L97.1 441.7L100.4 444.9L103.8 447.9L107.1 450.9L110.4 453.8L113.8 456.6L117.1 459.3L120.4 462.0L123.8 464.6L127.1 467.2L130.5 469.7L133.8 472.2L137.1 474.5L140.5 476.9L143.8 479.2L147.1 481.4L150.5 483.6L153.8 485.8L157.1 487.9L160.5 490.0L163.8 492.0L167.2 494.0L170.5 496.0L173.8 497.9L177.2 499.8L180.5 501.6L183.8 503.4L187.2 505.2L190.5 507.0L193.8 508.7L197.2 510.5L200.5 512.1L203.8 513.8L207.2 515.4L210.5 517.0L213.9 518.6L217.2 520.2L220.5 521.7L223.9 523.2L227.2 524.7L230.5 526.2L233.9 527.6L237.2 529.0L240.5 530.5L243.9 531.8L247.2 533.2L250.6 534.6L253.9 535.9L257.2 537.2L260.6 538.5L263.9 539.8L267.2 541.1L270.6 542.4L273.9 543.6L277.2 544.8L280.6 546.0L283.9 547.2L287.3 548.4L290.6 549.6L293.9 550.8L297.3 551.9L300.6 553.0L303.9 554.1L307.3 555.3L310.6 556.4L313.9 557.4L317.3 558.5L320.6 559.6L324.0 560.6L327.3 561.7L330.6 562.7L334.0 563.7L337.3 564.7" fill="none" stroke="#000" stroke-width="1.0"/>
</g>
<rect x="70.4" y="388.6" width="266.9" height="305.1" fill="none" stroke="#000" stroke-width="1"/>
<text x="70.4" y="713.4" font-size="15.1" text-anchor="middle" font-family="Liberation Sans, sans-serif">4</text>
<path d="M87.1 693.7v-2.3M87.1 388.6v2.3" stroke="#000" stroke-width="1"/>
<path d="M103.8 693.7v-4.6M103.8 388.6v4.6" stroke="#000" stroke-width="1"/>
<text x="103.8" y="713.4" font-size="15.1" text-anchor="middle" font-family="Liberation Sans, sans-serif">5</text>
<path d="M120.4 693.7v-2.3M120.4 388.6v2.3" stroke="#000" stroke-width="1"/>
<path d="M137.1 693.7v-4.6M137.1 388.6v4.6" stroke="#000" stroke-width="1"/>
<text x="137.1" y="713.4" font-size="15.1" text-anchor="middle" font-family="Liberation Sans, sans-serif">6</text>
<path d="M153.8 693.7v-2.3M153.8 388.6v2.3" stroke="#000" stroke-width="1"/>
<path d="M170.5 693.7v-4.6M170.5 388.6v4.6" stroke="#000" stroke-width="1"/>
<text x="170.5" y="713.4" font-size="15.1" text-anchor="middle" font-family="Liberation Sans, sans-serif">7</text>
<path d="M187.2 693.7v-2.3M187.2 388.6v2.3" stroke="#000" stroke-width="1"/>
<path d="M203.8 693.7v-4.6M203.8 388.6v4.6" stroke="#000" stroke-width="1"/>
<text x="203.8" y="713.4" font-size="15.1" text-anchor="middle" font-family="Liberation Sans, sans-serif">8</text>
<path d="M220.5 693.7v-2.3M220.5 388.6v2.3" stroke="#000" stroke-width="1"/>
<path d="M237.2 693.7v-4.6M237.2 388.6v4.6" stroke="#000" stroke-width="1"/>
<text x="237.2" y="713.4" font-size="15.1" text-anchor="middle" font-family="Liberation Sans, sans-serif">9</text>
<path d="M253.9 693.7v-2.3M253.9 388.6v2.3" stroke="#000" stroke-width="1"/>
<path d="M270.6 693.7v-4.6M270.6 388.6v4.6" stroke="#000" stroke-width="1"/>
<text x="270.6" y="713.4" font-size="15.1" text-anchor="middle" font-family="Liberation Sans, sans-serif">10</text>
<path d="M287.3 693.7v-2.3M287.3 388.6v2.3" stroke="#000" stroke-width="1"/>
<path d="M303.9 693.7v-4.6M303.9 388.6v4.6" stroke="#000" stroke-width="1"/>
<text x="303.9" y="713.4" font-size="15.1" text-anchor="middle" font-family="Liberation Sans, sans-serif">11</text>
<path d="M320.6 693.7v-2.3M320.6 388.6v2.3" stroke="#000" stroke-width="1"/>
<text x="337.3" y="713.4" font-size="15.1" text-anchor="middle" font-family="Liberation Sans, sans-serif">12</text>
<text x="203.9" y="737.5" font-size="19.1" text-anchor="middle" font-family="Liberation Sans, sans-serif">T (MeV)</text>
<path d="M70.4 670.7h4.6M337.3 670.7h-4.6" stroke="#000" stroke-width="1"/>
<text x="55.4" y="678.5" font-size="15.1" text-anchor="end" font-family="Liberation Sans, sans-serif">10</text>
<text x="55.5" y="670.4" font-size="10.7" text-anchor="start" font-family="Liberation Sans, sans-serif">3</text>
<path d="M70.4 594.5h4.6M337.3 594.5h-4.6" stroke="#000" stroke-width="1"/>
<text x="55.4" y="602.3" font-size="15.1" text-anchor="end" font-family="Liberation Sans, sans-serif">10</text>
<text x="55.5" y="594.2" font-size="10.7" text-anchor="start" font-family="Liberation Sans, sans-serif">4</text>
<path d="M70.4 518.2h4.6M337.3 518.2h-4.6" stroke="#000" stroke-width="1"/>
<text x="55.4" y="526.0" font-size="15.1" text-anchor="end" font-family="Liberation Sans, sans-serif">10</text>
<text x="55.5" y="517.9" font-size="10.7" text-anchor="start" font-family="Liberation Sans, sans-serif">5</text>
<path d="M70.4 441.9h4.6M337.3 441.9h-4.6" stroke="#000" stroke-width="1"/>
<text x="55.4" y="449.7" font-size="15.1" text-anchor="end" font-family="Liberation Sans, sans-serif">10</text>
<text x="55.5" y="441.6" font-size="10.7" text-anchor="start" font-family="Liberation Sans, sans-serif">6</text>
<path d="M70.4 687.7h2.3M337.3 687.7h-2.3" stroke="#000" stroke-width="1"/>
<path d="M70.4 682.6h2.3M337.3 682.6h-2.3" stroke="#000" stroke-width="1"/>
<path d="M70.4 678.1h2.3M337.3 678.1h-2.3" stroke="#000" stroke-width="1"/>
<path d="M70.4 674.2h2.3M337.3 674.2h-2.3" stroke="#000" stroke-width="1"/>
<path d="M70.4 647.8h2.3M337.3 647.8h-2.3" stroke="#000" stroke-width="1"/>
<path d="M70.4 634.3h2.3M337.3 634.3h-2.3" stroke="#000" stroke-width="1"/>
<path d="M70.4 624.8h2.3M337.3 624.8h-2.3" stroke="#000" stroke-width="1"/>
<path d="M70.4 617.4h2.3M337.3 617.4h-2.3" stroke="#000" stroke-width="1"/>
<path d="M70.4 611.4h2.3M337.3 611.4h-2.3" stroke="#000" stroke-width="1"/>
<path d="M70.4 606.3h2.3M337.3 606.3h-2.3" stroke="#000" stroke-width="1"/>
<path d="M70.4 601.9h2.3M337.3 601.9h-2.3" stroke="#000" stroke-width="1"/>
<path d="M70.4 598.0h2.3M337.3 598.0h-2.3" stroke="#000" stroke-width="1"/>
<path d="M70.4 571.5h2.3M337.3 571.5h-2.3" stroke="#000" stroke-width="1"/>
<path d="M70.4 558.1h2.3M337.3 558.1h-2.3" stroke="#000" stroke-width="1"/>
<path d="M70.4 548.5h2.3M337.3 548.5h-2.3" stroke="#000" stroke-width="1"/>
<path d="M70.4 541.2h2.3M337.3 541.2h-2.3" stroke="#000" stroke-width="1"/>
<path d="M70.4 535.1h2.3M337.3 535.1h-2.3" stroke="#000" stroke-width="1"/>
<path d="M70.4 530.0h2.3M337.3 530.0h-2.3" stroke="#000" stroke-width="1"/>
<path d="M70.4 525.6h2.3M337.3 525.6h-2.3" stroke="#000" stroke-width="1"/>
<path d="M70.4 521.7h2.3M337.3 521.7h-2.3" stroke="#000" stroke-width="1"/>
<path d="M70.4 495.2h2.3M337.3 495.2h-2.3" stroke="#000" stroke-width="1"/>
<path d="M70.4 481.8h2.3M337.3 481.8h-2.3" stroke="#000" stroke-width="1"/>
<path d="M70.4 472.3h2.3M337.3 472.3h-2.3" stroke="#000" stroke-width="1"/>
<path d="M70.4 464.9h2.3M337.3 464.9h-2.3" stroke="#000" stroke-width="1"/>
<path d="M70.4 458.8h2.3M337.3 458.8h-2.3" stroke="#000" stroke-width="1"/>
<path d="M70.4 453.7h2.3M337.3 453.7h-2.3" stroke="#000" stroke-width="1"/>
<path d="M70.4 449.3h2.3M337.3 449.3h-2.3" stroke="#000" stroke-width="1"/>
<path d="M70.4 445.4h2.3M337.3 445.4h-2.3" stroke="#000" stroke-width="1"/>
<path d="M70.4 419.0h2.3M337.3 419.0h-2.3" stroke="#000" stroke-width="1"/>
<path d="M70.4 405.5h2.3M337.3 405.5h-2.3" stroke="#000" stroke-width="1"/>
<path d="M70.4 396.0h2.3M337.3 396.0h-2.3" stroke="#000" stroke-width="1"/>
<path d="M108.1 415.4L114.1 432.7L120.4 448.5L125.1 461.6L129.8 474.0L134.5 486.3L138.8 496.9L143.5 507.0L148.5 516.3L155.1 526.5L162.8 535.8L171.8 544.8L180.5 552.8L186.8 560.5L192.5 567.2L197.5 573.2L203.8 579.1L206.2 585.1L213.5 592.7L220.5 598.7L231.9 605.3L237.2 611.2L242.6 617.0L248.6 622.9L252.6 627.0L258.2 631.1L262.6 636.0L271.4 646.0L272.9 650.0L284.6 654.1L292.6 659.8L303.9 675.6" fill="none" stroke="#000" stroke-width="0.95" stroke-dasharray="1.7 2.8"/>
<path d="M108.1 412.0L111.4 415.4L108.1 418.8L104.7 415.4Z" fill="#000" stroke="none" stroke-width="0" stroke-linejoin="round"/>
<path d="M114.1 429.3L117.5 432.7L114.1 436.1L110.8 432.7Z" fill="#000" stroke="none" stroke-width="0" stroke-linejoin="round"/>
<path d="M120.4 445.1L123.8 448.5L120.4 451.9L117.1 448.5Z" fill="#000" stroke="none" stroke-width="0" stroke-linejoin="round"/>
<path d="M125.1 458.2L128.5 461.6L125.1 465.0L121.8 461.6Z" fill="#000" stroke="none" stroke-width="0" stroke-linejoin="round"/>
<path d="M129.8 470.6L133.1 474.0L129.8 477.4L126.4 474.0Z" fill="#000" stroke="none" stroke-width="0" stroke-linejoin="round"/>
<path d="M134.5 482.9L137.8 486.3L134.5 489.7L131.1 486.3Z" fill="#000" stroke="none" stroke-width="0" stroke-linejoin="round"/>
<path d="M138.8 493.5L142.1 496.9L138.8 500.2L135.4 496.9Z" fill="#000" stroke="none" stroke-width="0" stroke-linejoin="round"/>
<path d="M143.5 503.6L146.8 507.0L143.5 510.4L140.1 507.0Z" fill="#000" stroke="none" stroke-width="0" stroke-linejoin="round"/>
<path d="M148.5 512.9L151.8 516.3L148.5 519.6L145.1 516.3Z" fill="#000" stroke="none" stroke-width="0" stroke-linejoin="round"/>
<path d="M155.1 523.1L158.5 526.5L155.1 529.9L151.8 526.5Z" fill="#000" stroke="none" stroke-width="0" stroke-linejoin="round"/>
<path d="M162.8 532.4L166.2 535.8L162.8 539.1L159.5 535.8Z" fill="#000" stroke="none" stroke-width="0" stroke-linejoin="round"/>
<path d="M171.8 541.4L175.2 544.8L171.8 548.1L168.5 544.8Z" fill="#000" stroke="none" stroke-width="0" stroke-linejoin="round"/>
<path d="M180.5 549.4L183.8 552.8L180.5 556.1L177.1 552.8Z" fill="#000" stroke="none" stroke-width="0" stroke-linejoin="round"/>
<path d="M186.8 557.1L190.2 560.5L186.8 563.9L183.5 560.5Z" fill="#000" stroke="none" stroke-width="0" stroke-linejoin="round"/>
<path d="M192.5 563.9L195.9 567.2L192.5 570.6L189.2 567.2Z" fill="#000" stroke="none" stroke-width="0" stroke-linejoin="round"/>
<path d="M197.5 569.9L200.9 573.2L197.5 576.6L194.2 573.2Z" fill="#000" stroke="none" stroke-width="0" stroke-linejoin="round"/>
<path d="M203.8 575.8L207.2 579.1L203.8 582.5L200.5 579.1Z" fill="#000" stroke="none" stroke-width="0" stroke-linejoin="round"/>
<path d="M206.2 581.8L209.5 585.1L206.2 588.5L202.8 585.1Z" fill="#000" stroke="none" stroke-width="0" stroke-linejoin="round"/>
<path d="M213.5 589.4L216.9 592.7L213.5 596.1L210.2 592.7Z" fill="#000" stroke="none" stroke-width="0" stroke-linejoin="round"/>
<path d="M220.5 595.4L223.9 598.7L220.5 602.1L217.2 598.7Z" fill="#000" stroke="none" stroke-width="0" stroke-linejoin="round"/>
<path d="M231.9 601.9L235.2 605.3L231.9 608.6L228.5 605.3Z" fill="#000" stroke="none" stroke-width="0" stroke-linejoin="round"/>
<path d="M237.2 607.9L240.6 611.2L237.2 614.6L233.9 611.2Z" fill="#000" stroke="none" stroke-width="0" stroke-linejoin="round"/>
<path d="M242.6 613.6L245.9 617.0L242.6 620.4L239.2 617.0Z" fill="#000" stroke="none" stroke-width="0" stroke-linejoin="round"/>
<path d="M248.6 619.5L251.9 622.9L248.6 626.2L245.2 622.9Z" fill="#000" stroke="none" stroke-width="0" stroke-linejoin="round"/>
<path d="M252.6 623.6L255.9 627.0L252.6 630.4L249.2 627.0Z" fill="#000" stroke="none" stroke-width="0" stroke-linejoin="round"/>
<path d="M258.2 627.8L261.6 631.1L258.2 634.5L254.9 631.1Z" fill="#000" stroke="none" stroke-width="0" stroke-linejoin="round"/>
<path d="M262.6 632.6L265.9 636.0L262.6 639.4L259.2 636.0Z" fill="#000" stroke="none" stroke-width="0" stroke-linejoin="round"/>
<path d="M271.4 642.6L274.8 646.0L271.4 649.4L268.1 646.0Z" fill="#000" stroke="none" stroke-width="0" stroke-linejoin="round"/>
<path d="M272.9 646.6L276.3 650.0L272.9 653.4L269.6 650.0Z" fill="#000" stroke="none" stroke-width="0" stroke-linejoin="round"/>
<path d="M284.6 650.8L287.9 654.1L284.6 657.5L281.2 654.1Z" fill="#000" stroke="none" stroke-width="0" stroke-linejoin="round"/>
<path d="M292.6 656.4L295.9 659.8L292.6 663.1L289.2 659.8Z" fill="#000" stroke="none" stroke-width="0" stroke-linejoin="round"/>
<path d="M303.9 672.2L307.3 675.6L303.9 679.0L300.6 675.6Z" fill="#000" stroke="none" stroke-width="0" stroke-linejoin="round"/>
<circle cx="108.1" cy="467.2" r="3.0" fill="#ff0000" stroke="none" stroke-width="0"/>
<circle cx="114.1" cy="474.0" r="3.0" fill="#ff0000" stroke="none" stroke-width="0"/>
<circle cx="120.4" cy="481.6" r="3.0" fill="#ff0000" stroke="none" stroke-width="0"/>
<circle cx="125.1" cy="487.3" r="3.0" fill="#ff0000" stroke="none" stroke-width="0"/>
<circle cx="129.8" cy="493.0" r="3.0" fill="#ff0000" stroke="none" stroke-width="0"/>
<circle cx="134.5" cy="498.8" r="3.0" fill="#ff0000" stroke="none" stroke-width="0"/>
<circle cx="138.8" cy="504.8" r="3.0" fill="#ff0000" stroke="none" stroke-width="0"/>
<circle cx="143.5" cy="509.2" r="3.0" fill="#ff0000" stroke="none" stroke-width="0"/>
<circle cx="148.5" cy="516.8" r="3.0" fill="#ff0000" stroke="none" stroke-width="0"/>
<circle cx="155.1" cy="524.0" r="3.0" fill="#ff0000" stroke="none" stroke-width="0"/>
<circle cx="162.8" cy="531.6" r="3.0" fill="#ff0000" stroke="none" stroke-width="0"/>
<circle cx="171.8" cy="541.0" r="3.0" fill="#ff0000" stroke="none" stroke-width="0"/>
<circle cx="180.5" cy="549.5" r="3.0" fill="#ff0000" stroke="none" stroke-width="0"/>
<circle cx="186.8" cy="556.6" r="3.0" fill="#ff0000" stroke="none" stroke-width="0"/>
<circle cx="192.5" cy="562.2" r="3.0" fill="#ff0000" stroke="none" stroke-width="0"/>
<circle cx="197.5" cy="568.1" r="3.0" fill="#ff0000" stroke="none" stroke-width="0"/>
<circle cx="203.8" cy="574.6" r="3.0" fill="#ff0000" stroke="none" stroke-width="0"/>
<circle cx="206.2" cy="580.0" r="3.0" fill="#ff0000" stroke="none" stroke-width="0"/>
<circle cx="213.5" cy="588.3" r="3.0" fill="#ff0000" stroke="none" stroke-width="0"/>
<circle cx="220.5" cy="596.0" r="3.0" fill="#ff0000" stroke="none" stroke-width="0"/>
<circle cx="231.9" cy="604.2" r="3.0" fill="#ff0000" stroke="none" stroke-width="0"/>
<circle cx="237.2" cy="609.1" r="3.0" fill="#ff0000" stroke="none" stroke-width="0"/>
<circle cx="242.6" cy="615.5" r="3.0" fill="#ff0000" stroke="none" stroke-width="0"/>
<circle cx="248.6" cy="621.3" r="3.0" fill="#ff0000" stroke="none" stroke-width="0"/>
<circle cx="252.6" cy="625.0" r="3.0" fill="#ff0000" stroke="none" stroke-width="0"/>
<circle cx="258.2" cy="628.0" r="3.0" fill="#ff0000" stroke="none" stroke-width="0"/>
<circle cx="262.6" cy="634.6" r="3.0" fill="#ff0000" stroke="none" stroke-width="0"/>
<circle cx="271.4" cy="646.9" r="3.0" fill="#ff0000" stroke="none" stroke-width="0"/>
<circle cx="272.9" cy="647.5" r="3.0" fill="#ff0000" stroke="none" stroke-width="0"/>
<circle cx="284.6" cy="653.5" r="3.0" fill="#ff0000" stroke="none" stroke-width="0"/>
<circle cx="292.6" cy="659.2" r="3.0" fill="#ff0000" stroke="none" stroke-width="0"/>
<circle cx="303.9" cy="665.4" r="3.0" fill="#ff0000" stroke="none" stroke-width="0"/>
<path d="M108.1 460.8L111.3 466.9L104.8 466.9Z" fill="#0000cd"/>
<path d="M114.1 468.3L117.4 474.4L110.9 474.4Z" fill="#0000cd"/>
<path d="M120.4 475.4L123.7 481.6L117.2 481.6Z" fill="#0000cd"/>
<path d="M125.1 481.1L128.4 487.2L121.9 487.2Z" fill="#0000cd"/>
<path d="M129.8 486.6L133.0 492.7L126.5 492.7Z" fill="#0000cd"/>
<path d="M134.5 492.1L137.7 498.2L131.2 498.2Z" fill="#0000cd"/>
<path d="M138.8 498.1L142.0 504.2L135.5 504.2Z" fill="#0000cd"/>
<path d="M143.5 502.4L146.7 508.6L140.2 508.6Z" fill="#0000cd"/>
<path d="M148.5 510.3L151.7 516.4L145.2 516.4Z" fill="#0000cd"/>
<path d="M155.1 517.5L158.4 523.5L151.9 523.5Z" fill="#0000cd"/>
<path d="M162.8 524.7L166.1 530.8L159.6 530.8Z" fill="#0000cd"/>
<path d="M171.8 533.7L175.1 539.8L168.6 539.8Z" fill="#0000cd"/>
<path d="M180.5 542.2L183.7 548.2L177.2 548.2Z" fill="#0000cd"/>
<path d="M186.8 549.0L190.1 555.0L183.6 555.0Z" fill="#0000cd"/>
<path d="M192.5 554.0L195.8 560.0L189.3 560.0Z" fill="#0000cd"/>
<path d="M197.5 559.7L200.8 565.8L194.3 565.8Z" fill="#0000cd"/>
<path d="M203.8 565.9L207.1 571.9L200.6 571.9Z" fill="#0000cd"/>
<path d="M206.2 571.0L209.4 577.0L202.9 577.0Z" fill="#0000cd"/>
<path d="M213.5 578.5L216.8 584.5L210.3 584.5Z" fill="#0000cd"/>
<path d="M220.5 585.7L223.8 591.8L217.3 591.8Z" fill="#0000cd"/>
<path d="M231.9 594.4L235.1 600.4L228.6 600.4Z" fill="#0000cd"/>
<path d="M237.2 599.6L240.5 605.6L234.0 605.6Z" fill="#0000cd"/>
<path d="M242.6 605.2L245.8 611.2L239.3 611.2Z" fill="#0000cd"/>
<path d="M248.6 610.5L251.8 616.5L245.3 616.5Z" fill="#0000cd"/>
<path d="M252.6 614.2L255.8 620.2L249.3 620.2Z" fill="#0000cd"/>
<path d="M258.2 617.9L261.5 623.9L255.0 623.9Z" fill="#0000cd"/>
<path d="M262.6 623.4L265.8 629.4L259.3 629.4Z" fill="#0000cd"/>
<path d="M271.4 634.7L274.7 640.8L268.2 640.8Z" fill="#0000cd"/>
<path d="M272.9 635.5L276.2 641.5L269.7 641.5Z" fill="#0000cd"/>
<path d="M284.6 643.9L287.8 649.9L281.3 649.9Z" fill="#0000cd"/>
<path d="M292.6 650.5L295.8 656.5L289.3 656.5Z" fill="#0000cd"/>
<path d="M303.9 657.2L307.2 663.2L300.7 663.2Z" fill="#0000cd"/>
<rect x="105.1" y="690.7" width="6.0" height="6.0" fill="#ff6347" stroke="none" stroke-width="0"/>
<rect x="111.1" y="690.7" width="6.0" height="6.0" fill="#ff6347" stroke="none" stroke-width="0"/>
<rect x="117.4" y="690.7" width="6.0" height="6.0" fill="#ff6347" stroke="none" stroke-width="0"/>
<rect x="122.1" y="690.7" width="6.0" height="6.0" fill="#ff6347" stroke="none" stroke-width="0"/>
<rect x="126.8" y="690.7" width="6.0" height="6.0" fill="#ff6347" stroke="none" stroke-width="0"/>
<rect x="131.5" y="690.7" width="6.0" height="6.0" fill="#ff6347" stroke="none" stroke-width="0"/>
<rect x="135.8" y="690.7" width="6.0" height="6.0" fill="#ff6347" stroke="none" stroke-width="0"/>
<rect x="140.5" y="690.7" width="6.0" height="6.0" fill="#ff6347" stroke="none" stroke-width="0"/>
<rect x="145.5" y="690.7" width="6.0" height="6.0" fill="#ff6347" stroke="none" stroke-width="0"/>
<rect x="152.1" y="690.7" width="6.0" height="6.0" fill="#ff6347" stroke="none" stroke-width="0"/>
<rect x="159.8" y="690.7" width="6.0" height="6.0" fill="#ff6347" stroke="none" stroke-width="0"/>
<rect x="168.8" y="690.7" width="6.0" height="6.0" fill="#ff6347" stroke="none" stroke-width="0"/>
<rect x="177.5" y="690.7" width="6.0" height="6.0" fill="#ff6347" stroke="none" stroke-width="0"/>
<rect x="183.8" y="690.7" width="6.0" height="6.0" fill="#ff6347" stroke="none" stroke-width="0"/>
<rect x="189.5" y="690.7" width="6.0" height="6.0" fill="#ff6347" stroke="none" stroke-width="0"/>
<rect x="194.5" y="690.7" width="6.0" height="6.0" fill="#ff6347" stroke="none" stroke-width="0"/>
<rect x="200.8" y="690.7" width="6.0" height="6.0" fill="#ff6347" stroke="none" stroke-width="0"/>
<rect x="203.2" y="690.7" width="6.0" height="6.0" fill="#ff6347" stroke="none" stroke-width="0"/>
<rect x="210.5" y="690.7" width="6.0" height="6.0" fill="#ff6347" stroke="none" stroke-width="0"/>
<rect x="217.5" y="690.7" width="6.0" height="6.0" fill="#ff6347" stroke="none" stroke-width="0"/>
<rect x="228.9" y="690.7" width="6.0" height="6.0" fill="#ff6347" stroke="none" stroke-width="0"/>
<rect x="234.2" y="690.7" width="6.0" height="6.0" fill="#ff6347" stroke="none" stroke-width="0"/>
<rect x="239.6" y="690.7" width="6.0" height="6.0" fill="#ff6347" stroke="none" stroke-width="0"/>
<rect x="245.6" y="690.7" width="6.0" height="6.0" fill="#ff6347" stroke="none" stroke-width="0"/>
<rect x="249.6" y="690.7" width="6.0" height="6.0" fill="#ff6347" stroke="none" stroke-width="0"/>
<rect x="255.2" y="690.7" width="6.0" height="6.0" fill="#ff6347" stroke="none" stroke-width="0"/>
<rect x="259.6" y="690.7" width="6.0" height="6.0" fill="#ff6347" stroke="none" stroke-width="0"/>
<rect x="268.4" y="690.7" width="6.0" height="6.0" fill="#ff6347" stroke="none" stroke-width="0"/>
<rect x="269.9" y="690.7" width="6.0" height="6.0" fill="#ff6347" stroke="none" stroke-width="0"/>
<rect x="281.6" y="690.7" width="6.0" height="6.0" fill="#ff6347" stroke="none" stroke-width="0"/>
<rect x="289.6" y="690.7" width="6.0" height="6.0" fill="#ff6347" stroke="none" stroke-width="0"/>
<rect x="300.9" y="690.7" width="6.0" height="6.0" fill="#ff6347" stroke="none" stroke-width="0"/>
<path d="M108.1 691.4L110.4 693.7L108.1 696.1L105.7 693.7Z" fill="#fff" stroke="#4b0a90" stroke-width="1.05" stroke-linejoin="round"/>
<path d="M114.1 691.4L116.5 693.7L114.1 696.1L111.8 693.7Z" fill="#fff" stroke="#4b0a90" stroke-width="1.05" stroke-linejoin="round"/>
<path d="M120.4 691.4L122.8 693.7L120.4 696.1L118.1 693.7Z" fill="#fff" stroke="#4b0a90" stroke-width="1.05" stroke-linejoin="round"/>
<path d="M125.1 691.4L127.5 693.7L125.1 696.1L122.8 693.7Z" fill="#fff" stroke="#4b0a90" stroke-width="1.05" stroke-linejoin="round"/>
<path d="M129.8 691.4L132.1 693.7L129.8 696.1L127.4 693.7Z" fill="#fff" stroke="#4b0a90" stroke-width="1.05" stroke-linejoin="round"/>
<path d="M134.5 691.4L136.8 693.7L134.5 696.1L132.1 693.7Z" fill="#fff" stroke="#4b0a90" stroke-width="1.05" stroke-linejoin="round"/>
<path d="M138.8 691.4L141.1 693.7L138.8 696.1L136.4 693.7Z" fill="#fff" stroke="#4b0a90" stroke-width="1.05" stroke-linejoin="round"/>
<path d="M143.5 691.4L145.8 693.7L143.5 696.1L141.1 693.7Z" fill="#fff" stroke="#4b0a90" stroke-width="1.05" stroke-linejoin="round"/>
<path d="M148.5 691.4L150.8 693.7L148.5 696.1L146.1 693.7Z" fill="#fff" stroke="#4b0a90" stroke-width="1.05" stroke-linejoin="round"/>
<path d="M155.1 691.4L157.5 693.7L155.1 696.1L152.8 693.7Z" fill="#fff" stroke="#4b0a90" stroke-width="1.05" stroke-linejoin="round"/>
<path d="M162.8 691.4L165.2 693.7L162.8 696.1L160.5 693.7Z" fill="#fff" stroke="#4b0a90" stroke-width="1.05" stroke-linejoin="round"/>
<path d="M171.8 691.4L174.2 693.7L171.8 696.1L169.5 693.7Z" fill="#fff" stroke="#4b0a90" stroke-width="1.05" stroke-linejoin="round"/>
<path d="M180.5 691.4L182.8 693.7L180.5 696.1L178.1 693.7Z" fill="#fff" stroke="#4b0a90" stroke-width="1.05" stroke-linejoin="round"/>
<path d="M186.8 691.4L189.2 693.7L186.8 696.1L184.5 693.7Z" fill="#fff" stroke="#4b0a90" stroke-width="1.05" stroke-linejoin="round"/>
<path d="M192.5 691.4L194.9 693.7L192.5 696.1L190.2 693.7Z" fill="#fff" stroke="#4b0a90" stroke-width="1.05" stroke-linejoin="round"/>
<path d="M197.5 691.4L199.9 693.7L197.5 696.1L195.2 693.7Z" fill="#fff" stroke="#4b0a90" stroke-width="1.05" stroke-linejoin="round"/>
<path d="M203.8 691.4L206.2 693.7L203.8 696.1L201.5 693.7Z" fill="#fff" stroke="#4b0a90" stroke-width="1.05" stroke-linejoin="round"/>
<path d="M206.2 691.4L208.5 693.7L206.2 696.1L203.8 693.7Z" fill="#fff" stroke="#4b0a90" stroke-width="1.05" stroke-linejoin="round"/>
<path d="M213.5 691.4L215.9 693.7L213.5 696.1L211.2 693.7Z" fill="#fff" stroke="#4b0a90" stroke-width="1.05" stroke-linejoin="round"/>
<path d="M220.5 691.4L222.9 693.7L220.5 696.1L218.2 693.7Z" fill="#fff" stroke="#4b0a90" stroke-width="1.05" stroke-linejoin="round"/>
<path d="M231.9 691.4L234.2 693.7L231.9 696.1L229.5 693.7Z" fill="#fff" stroke="#4b0a90" stroke-width="1.05" stroke-linejoin="round"/>
<path d="M237.2 691.4L239.6 693.7L237.2 696.1L234.9 693.7Z" fill="#fff" stroke="#4b0a90" stroke-width="1.05" stroke-linejoin="round"/>
<path d="M242.6 691.4L244.9 693.7L242.6 696.1L240.2 693.7Z" fill="#fff" stroke="#4b0a90" stroke-width="1.05" stroke-linejoin="round"/>
<path d="M248.6 691.4L250.9 693.7L248.6 696.1L246.2 693.7Z" fill="#fff" stroke="#4b0a90" stroke-width="1.05" stroke-linejoin="round"/>
<path d="M252.6 691.4L254.9 693.7L252.6 696.1L250.2 693.7Z" fill="#fff" stroke="#4b0a90" stroke-width="1.05" stroke-linejoin="round"/>
<path d="M258.2 691.4L260.6 693.7L258.2 696.1L255.9 693.7Z" fill="#fff" stroke="#4b0a90" stroke-width="1.05" stroke-linejoin="round"/>
<path d="M262.6 691.4L264.9 693.7L262.6 696.1L260.2 693.7Z" fill="#fff" stroke="#4b0a90" stroke-width="1.05" stroke-linejoin="round"/>
<path d="M271.4 691.4L273.8 693.7L271.4 696.1L269.1 693.7Z" fill="#fff" stroke="#4b0a90" stroke-width="1.05" stroke-linejoin="round"/>
<path d="M272.9 691.4L275.3 693.7L272.9 696.1L270.6 693.7Z" fill="#fff" stroke="#4b0a90" stroke-width="1.05" stroke-linejoin="round"/>
<path d="M284.6 691.4L286.9 693.7L284.6 696.1L282.2 693.7Z" fill="#fff" stroke="#4b0a90" stroke-width="1.05" stroke-linejoin="round"/>
<path d="M292.6 691.4L294.9 693.7L292.6 696.1L290.2 693.7Z" fill="#fff" stroke="#4b0a90" stroke-width="1.05" stroke-linejoin="round"/>
<path d="M303.9 691.4L306.3 693.7L303.9 696.1L301.6 693.7Z" fill="#fff" stroke="#4b0a90" stroke-width="1.05" stroke-linejoin="round"/>
<path d="M271.7 691.4L274.1 693.7L271.7 696.1L269.4 693.7Z" fill="#4b0a90" stroke="#4b0a90" stroke-width="1.05" stroke-linejoin="round"/>
<circle cx="271.9" cy="693.7" r="0.5" fill="#b9a3d6" stroke="none" stroke-width="0"/>
<circle cx="108.1" cy="449.8" r="2.5" fill="#fff" stroke="#00ced1" stroke-width="1.05"/>
<circle cx="114.1" cy="456.1" r="2.5" fill="#fff" stroke="#00ced1" stroke-width="1.05"/>
<circle cx="120.4" cy="463.3" r="2.5" fill="#fff" stroke="#00ced1" stroke-width="1.05"/>
<circle cx="125.1" cy="468.9" r="2.5" fill="#fff" stroke="#00ced1" stroke-width="1.05"/>
<circle cx="129.8" cy="476.0" r="2.5" fill="#fff" stroke="#00ced1" stroke-width="1.05"/>
<circle cx="134.5" cy="481.6" r="2.5" fill="#fff" stroke="#00ced1" stroke-width="1.05"/>
<circle cx="138.8" cy="490.3" r="2.5" fill="#fff" stroke="#00ced1" stroke-width="1.05"/>
<circle cx="143.5" cy="497.4" r="2.5" fill="#fff" stroke="#00ced1" stroke-width="1.05"/>
<circle cx="148.5" cy="508.5" r="2.5" fill="#fff" stroke="#00ced1" stroke-width="1.05"/>
<circle cx="155.1" cy="519.4" r="2.5" fill="#fff" stroke="#00ced1" stroke-width="1.05"/>
<circle cx="162.8" cy="529.9" r="2.5" fill="#fff" stroke="#00ced1" stroke-width="1.05"/>
<circle cx="171.8" cy="540.6" r="2.5" fill="#fff" stroke="#00ced1" stroke-width="1.05"/>
<circle cx="180.5" cy="551.1" r="2.5" fill="#fff" stroke="#00ced1" stroke-width="1.05"/>
<circle cx="186.8" cy="560.1" r="2.5" fill="#fff" stroke="#00ced1" stroke-width="1.05"/>
<circle cx="192.5" cy="564.7" r="2.5" fill="#fff" stroke="#00ced1" stroke-width="1.05"/>
<circle cx="197.5" cy="572.0" r="2.5" fill="#fff" stroke="#00ced1" stroke-width="1.05"/>
<circle cx="203.8" cy="576.4" r="2.5" fill="#fff" stroke="#00ced1" stroke-width="1.05"/>
<circle cx="206.2" cy="587.7" r="2.5" fill="#fff" stroke="#00ced1" stroke-width="1.05"/>
<circle cx="213.5" cy="595.6" r="2.5" fill="#fff" stroke="#00ced1" stroke-width="1.05"/>
<circle cx="220.5" cy="604.0" r="2.5" fill="#fff" stroke="#00ced1" stroke-width="1.05"/>
<circle cx="231.9" cy="607.0" r="2.5" fill="#fff" stroke="#00ced1" stroke-width="1.05"/>
<circle cx="237.2" cy="612.7" r="2.5" fill="#fff" stroke="#00ced1" stroke-width="1.05"/>
<circle cx="242.6" cy="618.6" r="2.5" fill="#fff" stroke="#00ced1" stroke-width="1.05"/>
<circle cx="248.6" cy="619.2" r="2.5" fill="#fff" stroke="#00ced1" stroke-width="1.05"/>
<circle cx="252.6" cy="622.3" r="2.5" fill="#fff" stroke="#00ced1" stroke-width="1.05"/>
<circle cx="258.2" cy="620.2" r="2.5" fill="#fff" stroke="#00ced1" stroke-width="1.05"/>
<circle cx="262.6" cy="629.5" r="2.5" fill="#fff" stroke="#00ced1" stroke-width="1.05"/>
<circle cx="271.4" cy="634.0" r="2.5" fill="#fff" stroke="#00ced1" stroke-width="1.05"/>
<circle cx="272.9" cy="641.4" r="2.5" fill="#fff" stroke="#00ced1" stroke-width="1.05"/>
<circle cx="284.6" cy="640.1" r="2.5" fill="#fff" stroke="#00ced1" stroke-width="1.05"/>
<circle cx="292.6" cy="642.2" r="2.5" fill="#fff" stroke="#00ced1" stroke-width="1.05"/>
<circle cx="303.9" cy="642.8" r="2.5" fill="#fff" stroke="#00ced1" stroke-width="1.05"/>
<circle cx="271.4" cy="642.2" r="2.5" fill="#fff" stroke="#00ced1" stroke-width="1.05"/>
<path d="M108.1 459.6L108.9 463.2L112.6 462.8L109.4 464.7L110.9 468.1L108.1 465.7L105.3 468.1L106.8 464.7L103.6 462.8L107.3 463.2Z" fill="#800d0d"/>
<path d="M114.1 468.4L114.9 472.0L118.6 471.6L115.4 473.5L116.9 476.9L114.1 474.5L111.3 476.9L112.8 473.5L109.6 471.6L113.3 472.0Z" fill="#800d0d"/>
<path d="M120.4 477.2L121.2 480.8L124.9 480.4L121.7 482.3L123.2 485.7L120.4 483.3L117.7 485.7L119.1 482.3L116.0 480.4L119.6 480.8Z" fill="#800d0d"/>
<path d="M125.1 482.8L125.9 486.4L129.6 486.0L126.4 487.9L127.9 491.3L125.1 488.9L122.4 491.3L123.8 487.9L120.6 486.0L124.3 486.4Z" fill="#800d0d"/>
<path d="M129.8 489.6L130.6 493.2L134.3 492.8L131.1 494.7L132.5 498.1L129.8 495.7L127.0 498.1L128.5 494.7L125.3 492.8L129.0 493.2Z" fill="#800d0d"/>
<path d="M134.5 495.9L135.3 499.5L138.9 499.1L135.8 501.0L137.2 504.4L134.5 502.0L131.7 504.4L133.2 501.0L130.0 499.1L133.7 499.5Z" fill="#800d0d"/>
<path d="M138.8 504.3L139.6 507.9L143.3 507.5L140.1 509.4L141.6 512.8L138.8 510.4L136.0 512.8L137.5 509.4L134.3 507.5L138.0 507.9Z" fill="#800d0d"/>
<path d="M143.5 510.8L144.3 514.4L147.9 514.0L144.8 515.9L146.2 519.3L143.5 516.9L140.7 519.3L142.2 515.9L139.0 514.0L142.7 514.4Z" fill="#800d0d"/>
<path d="M148.5 522.3L149.3 525.9L152.9 525.5L149.8 527.4L151.2 530.8L148.5 528.4L145.7 530.8L147.2 527.4L144.0 525.5L147.7 525.9Z" fill="#800d0d"/>
<path d="M155.1 534.9L155.9 538.5L159.6 538.1L156.4 540.0L157.9 543.4L155.1 541.0L152.4 543.4L153.8 540.0L150.7 538.1L154.3 538.5Z" fill="#800d0d"/>
<path d="M162.8 548.1L163.6 551.7L167.3 551.3L164.1 553.2L165.6 556.6L162.8 554.2L160.1 556.6L161.5 553.2L158.3 551.3L162.0 551.7Z" fill="#800d0d"/>
<path d="M171.8 560.9L172.6 564.5L176.3 564.1L173.1 566.0L174.6 569.4L171.8 567.0L169.1 569.4L170.5 566.0L167.4 564.1L171.0 564.5Z" fill="#800d0d"/>
<path d="M180.5 572.2L181.3 575.8L185.0 575.4L181.8 577.3L183.3 580.7L180.5 578.3L177.7 580.7L179.2 577.3L176.0 575.4L179.7 575.8Z" fill="#800d0d"/>
<path d="M186.8 581.2L187.6 584.8L191.3 584.4L188.1 586.3L189.6 589.7L186.8 587.3L184.1 589.7L185.5 586.3L182.4 584.4L186.0 584.8Z" fill="#800d0d"/>
<path d="M192.5 587.2L193.3 590.8L197.0 590.4L193.8 592.3L195.3 595.7L192.5 593.3L189.7 595.7L191.2 592.3L188.0 590.4L191.7 590.8Z" fill="#800d0d"/>
<path d="M197.5 592.5L198.3 596.1L202.0 595.7L198.8 597.6L200.3 601.0L197.5 598.6L194.7 601.0L196.2 597.6L193.0 595.7L196.7 596.1Z" fill="#800d0d"/>
<path d="M203.8 598.7L204.7 602.3L208.3 601.9L205.1 603.8L206.6 607.2L203.8 604.8L201.1 607.2L202.6 603.8L199.4 601.9L203.0 602.3Z" fill="#800d0d"/>
<path d="M206.2 603.8L207.0 607.4L210.7 607.0L207.5 608.9L208.9 612.3L206.2 609.9L203.4 612.3L204.9 608.9L201.7 607.0L205.4 607.4Z" fill="#800d0d"/>
<path d="M213.5 612.5L214.3 616.1L218.0 615.7L214.8 617.6L216.3 621.0L213.5 618.6L210.8 621.0L212.2 617.6L209.1 615.7L212.7 616.1Z" fill="#800d0d"/>
<path d="M220.5 619.6L221.3 623.2L225.0 622.8L221.8 624.7L223.3 628.1L220.5 625.7L217.8 628.1L219.2 624.7L216.1 622.8L219.7 623.2Z" fill="#800d0d"/>
<path d="M231.9 625.8L232.7 629.4L236.3 629.0L233.2 630.9L234.6 634.3L231.9 631.9L229.1 634.3L230.6 630.9L227.4 629.0L231.1 629.4Z" fill="#800d0d"/>
<path d="M237.2 631.3L238.0 634.9L241.7 634.5L238.5 636.4L240.0 639.8L237.2 637.4L234.4 639.8L235.9 636.4L232.7 634.5L236.4 634.9Z" fill="#800d0d"/>
<path d="M242.6 636.1L243.4 639.7L247.0 639.3L243.8 641.2L245.3 644.6L242.6 642.2L239.8 644.6L241.3 641.2L238.1 639.3L241.7 639.7Z" fill="#800d0d"/>
<path d="M248.6 639.1L249.4 642.7L253.0 642.3L249.9 644.2L251.3 647.6L248.6 645.2L245.8 647.6L247.3 644.2L244.1 642.3L247.8 642.7Z" fill="#800d0d"/>
<path d="M252.6 641.6L253.4 645.2L257.0 644.8L253.9 646.7L255.3 650.1L252.6 647.7L249.8 650.1L251.3 646.7L248.1 644.8L251.8 645.2Z" fill="#800d0d"/>
<path d="M258.2 643.2L259.0 646.8L262.7 646.4L259.5 648.3L261.0 651.7L258.2 649.3L255.5 651.7L256.9 648.3L253.8 646.4L257.4 646.8Z" fill="#800d0d"/>
<path d="M262.6 648.4L263.4 652.0L267.0 651.6L263.9 653.5L265.3 656.9L262.6 654.5L259.8 656.9L261.3 653.5L258.1 651.6L261.8 652.0Z" fill="#800d0d"/>
<path d="M271.4 653.9L272.2 657.5L275.9 657.1L272.7 659.0L274.2 662.4L271.4 660.0L268.6 662.4L270.1 659.0L266.9 657.1L270.6 657.5Z" fill="#800d0d"/>
<path d="M272.9 657.2L273.7 660.8L277.4 660.4L274.2 662.3L275.7 665.7L272.9 663.3L270.1 665.7L271.6 662.3L268.4 660.4L272.1 660.8Z" fill="#800d0d"/>
<path d="M284.6 661.7L285.4 665.3L289.1 664.9L285.9 666.8L287.3 670.2L284.6 667.8L281.8 670.2L283.3 666.8L280.1 664.9L283.8 665.3Z" fill="#800d0d"/>
<path d="M292.6 665.8L293.4 669.4L297.1 669.0L293.9 670.9L295.4 674.3L292.6 671.9L289.8 674.3L291.3 670.9L288.1 669.0L291.8 669.4Z" fill="#800d0d"/>
<path d="M303.9 671.3L304.7 674.9L308.4 674.5L305.2 676.4L306.7 679.8L303.9 677.4L301.2 679.8L302.6 676.4L299.5 674.5L303.1 674.9Z" fill="#800d0d"/>
<text transform="translate(25.4 542.2) rotate(-90)" font-size="19.1" text-anchor="middle" font-family="Liberation Sans, sans-serif">K<tspan font-size="14.5" dy="4.5">c</tspan><tspan dy="-4.5">[h] (fm</tspan><tspan font-size="14.8" dy="-9">6</tspan><tspan dy="9">)</tspan></text>
<text x="147.8" y="407.5" font-size="18.9" text-anchor="middle" font-family="Liberation Sans, sans-serif">(c)</text>
<clipPath id="cld"><rect x="432.8" y="388.6" width="266.5" height="305.1"/></clipPath>
<g clip-path="url(#cld)">
<path d="M453.5 410.6L487.4 410.6L492.5 423.9L499.3 440.8L506.1 457.8L512.9 474.8L517.6 485.0L526.8 503.4L537.8 521.8L551.5 537.5L564.6 550.2L577.6 561.2L588.0 569.2L597.9 577.2L601.0 586.4L617.4 596.7L631.8 601.8L646.1 616.1L660.5 629.5L670.7 634.6L680.0 637.7L681.0 646.9L699.3 653.7L699.3 673.2L613.3 673.2L607.2 660.2L599.0 652.0L587.7 646.9L587.7 639.7L580.5 631.5L570.3 619.2L563.6 611.9L554.4 602.7L545.2 593.5L536.0 584.3L534.1 578.8L526.8 569.6L517.6 558.6L508.4 545.7L499.2 529.1L490.0 514.4L487.4 508.8L483.2 498.6L479.0 486.7L472.0 467.0L466.2 451.0L462.0 437.4L457.7 423.9Z" fill="#aeaeae"/>
<path d="M432.8 405.6L436.1 409.7L439.5 413.7L442.8 417.6L446.1 421.4L449.5 425.1L452.8 428.6L456.1 432.0L459.4 435.4L462.8 438.6L466.1 441.8L469.4 444.8L472.8 447.8L476.1 450.7L479.4 453.6L482.8 456.4L486.1 459.1L489.4 461.7L492.8 464.3L496.1 466.8L499.4 469.3L502.8 471.7L506.1 474.0L509.4 476.3L512.8 478.6L516.1 480.8L519.4 483.0L522.7 485.1L526.1 487.2L529.4 489.3L532.7 491.3L536.1 493.2L539.4 495.2L542.7 497.1L546.1 499.0L549.4 500.8L552.7 502.6L556.1 504.4L559.4 506.1L562.7 507.9L566.0 509.6L569.4 511.2L572.7 512.9L576.0 514.5L579.4 516.1L582.7 517.6L586.0 519.2L589.4 520.7L592.7 522.2L596.0 523.7L599.4 525.2L602.7 526.6L606.0 528.0L609.4 529.4L612.7 530.8L616.0 532.2L619.4 533.5L622.7 534.9L626.0 536.2L629.3 537.5L632.7 538.8L636.0 540.0L639.3 541.3L642.7 542.5L646.0 543.7L649.3 544.9L652.7 546.1L656.0 547.3L659.3 548.5L662.7 549.6L666.0 550.8L669.3 551.9L672.6 553.0L676.0 554.1L679.3 555.2L682.6 556.3L686.0 557.4L689.3 558.4L692.6 559.5L696.0 560.5L699.3 561.6" fill="none" stroke="#000" stroke-width="1.0"/>
</g>
<rect x="432.8" y="388.6" width="266.5" height="305.1" fill="none" stroke="#000" stroke-width="1"/>
<text x="432.8" y="713.4" font-size="15.1" text-anchor="middle" font-family="Liberation Sans, sans-serif">4</text>
<path d="M449.5 693.7v-2.3M449.5 388.6v2.3" stroke="#000" stroke-width="1"/>
<path d="M466.1 693.7v-4.6M466.1 388.6v4.6" stroke="#000" stroke-width="1"/>
<text x="466.1" y="713.4" font-size="15.1" text-anchor="middle" font-family="Liberation Sans, sans-serif">5</text>
<path d="M482.8 693.7v-2.3M482.8 388.6v2.3" stroke="#000" stroke-width="1"/>
<path d="M499.4 693.7v-4.6M499.4 388.6v4.6" stroke="#000" stroke-width="1"/>
<text x="499.4" y="713.4" font-size="15.1" text-anchor="middle" font-family="Liberation Sans, sans-serif">6</text>
<path d="M516.1 693.7v-2.3M516.1 388.6v2.3" stroke="#000" stroke-width="1"/>
<path d="M532.7 693.7v-4.6M532.7 388.6v4.6" stroke="#000" stroke-width="1"/>
<text x="532.7" y="713.4" font-size="15.1" text-anchor="middle" font-family="Liberation Sans, sans-serif">7</text>
<path d="M549.4 693.7v-2.3M549.4 388.6v2.3" stroke="#000" stroke-width="1"/>
<path d="M566.0 693.7v-4.6M566.0 388.6v4.6" stroke="#000" stroke-width="1"/>
<text x="566.0" y="713.4" font-size="15.1" text-anchor="middle" font-family="Liberation Sans, sans-serif">8</text>
<path d="M582.7 693.7v-2.3M582.7 388.6v2.3" stroke="#000" stroke-width="1"/>
<path d="M599.4 693.7v-4.6M599.4 388.6v4.6" stroke="#000" stroke-width="1"/>
<text x="599.4" y="713.4" font-size="15.1" text-anchor="middle" font-family="Liberation Sans, sans-serif">9</text>
<path d="M616.0 693.7v-2.3M616.0 388.6v2.3" stroke="#000" stroke-width="1"/>
<path d="M632.7 693.7v-4.6M632.7 388.6v4.6" stroke="#000" stroke-width="1"/>
<text x="632.7" y="713.4" font-size="15.1" text-anchor="middle" font-family="Liberation Sans, sans-serif">10</text>
<path d="M649.3 693.7v-2.3M649.3 388.6v2.3" stroke="#000" stroke-width="1"/>
<path d="M666.0 693.7v-4.6M666.0 388.6v4.6" stroke="#000" stroke-width="1"/>
<text x="666.0" y="713.4" font-size="15.1" text-anchor="middle" font-family="Liberation Sans, sans-serif">11</text>
<path d="M682.6 693.7v-2.3M682.6 388.6v2.3" stroke="#000" stroke-width="1"/>
<text x="699.3" y="713.4" font-size="15.1" text-anchor="middle" font-family="Liberation Sans, sans-serif">12</text>
<text x="566.0" y="737.5" font-size="19.1" text-anchor="middle" font-family="Liberation Sans, sans-serif">T (MeV)</text>
<path d="M432.8 670.7h4.6M699.3 670.7h-4.6" stroke="#000" stroke-width="1"/>
<text x="417.8" y="678.5" font-size="15.1" text-anchor="end" font-family="Liberation Sans, sans-serif">10</text>
<text x="417.9" y="670.4" font-size="10.7" text-anchor="start" font-family="Liberation Sans, sans-serif">3</text>
<path d="M432.8 594.5h4.6M699.3 594.5h-4.6" stroke="#000" stroke-width="1"/>
<text x="417.8" y="602.3" font-size="15.1" text-anchor="end" font-family="Liberation Sans, sans-serif">10</text>
<text x="417.9" y="594.2" font-size="10.7" text-anchor="start" font-family="Liberation Sans, sans-serif">4</text>
<path d="M432.8 518.2h4.6M699.3 518.2h-4.6" stroke="#000" stroke-width="1"/>
<text x="417.8" y="526.0" font-size="15.1" text-anchor="end" font-family="Liberation Sans, sans-serif">10</text>
<text x="417.9" y="517.9" font-size="10.7" text-anchor="start" font-family="Liberation Sans, sans-serif">5</text>
<path d="M432.8 441.9h4.6M699.3 441.9h-4.6" stroke="#000" stroke-width="1"/>
<text x="417.8" y="449.7" font-size="15.1" text-anchor="end" font-family="Liberation Sans, sans-serif">10</text>
<text x="417.9" y="441.6" font-size="10.7" text-anchor="start" font-family="Liberation Sans, sans-serif">6</text>
<path d="M432.8 687.7h2.3M699.3 687.7h-2.3" stroke="#000" stroke-width="1"/>
<path d="M432.8 682.6h2.3M699.3 682.6h-2.3" stroke="#000" stroke-width="1"/>
<path d="M432.8 678.1h2.3M699.3 678.1h-2.3" stroke="#000" stroke-width="1"/>
<path d="M432.8 674.2h2.3M699.3 674.2h-2.3" stroke="#000" stroke-width="1"/>
<path d="M432.8 647.8h2.3M699.3 647.8h-2.3" stroke="#000" stroke-width="1"/>
<path d="M432.8 634.3h2.3M699.3 634.3h-2.3" stroke="#000" stroke-width="1"/>
<path d="M432.8 624.8h2.3M699.3 624.8h-2.3" stroke="#000" stroke-width="1"/>
<path d="M432.8 617.4h2.3M699.3 617.4h-2.3" stroke="#000" stroke-width="1"/>
<path d="M432.8 611.4h2.3M699.3 611.4h-2.3" stroke="#000" stroke-width="1"/>
<path d="M432.8 606.3h2.3M699.3 606.3h-2.3" stroke="#000" stroke-width="1"/>
<path d="M432.8 601.9h2.3M699.3 601.9h-2.3" stroke="#000" stroke-width="1"/>
<path d="M432.8 598.0h2.3M699.3 598.0h-2.3" stroke="#000" stroke-width="1"/>
<path d="M432.8 571.5h2.3M699.3 571.5h-2.3" stroke="#000" stroke-width="1"/>
<path d="M432.8 558.1h2.3M699.3 558.1h-2.3" stroke="#000" stroke-width="1"/>
<path d="M432.8 548.5h2.3M699.3 548.5h-2.3" stroke="#000" stroke-width="1"/>
<path d="M432.8 541.2h2.3M699.3 541.2h-2.3" stroke="#000" stroke-width="1"/>
<path d="M432.8 535.1h2.3M699.3 535.1h-2.3" stroke="#000" stroke-width="1"/>
<path d="M432.8 530.0h2.3M699.3 530.0h-2.3" stroke="#000" stroke-width="1"/>
<path d="M432.8 525.6h2.3M699.3 525.6h-2.3" stroke="#000" stroke-width="1"/>
<path d="M432.8 521.7h2.3M699.3 521.7h-2.3" stroke="#000" stroke-width="1"/>
<path d="M432.8 495.2h2.3M699.3 495.2h-2.3" stroke="#000" stroke-width="1"/>
<path d="M432.8 481.8h2.3M699.3 481.8h-2.3" stroke="#000" stroke-width="1"/>
<path d="M432.8 472.3h2.3M699.3 472.3h-2.3" stroke="#000" stroke-width="1"/>
<path d="M432.8 464.9h2.3M699.3 464.9h-2.3" stroke="#000" stroke-width="1"/>
<path d="M432.8 458.8h2.3M699.3 458.8h-2.3" stroke="#000" stroke-width="1"/>
<path d="M432.8 453.7h2.3M699.3 453.7h-2.3" stroke="#000" stroke-width="1"/>
<path d="M432.8 449.3h2.3M699.3 449.3h-2.3" stroke="#000" stroke-width="1"/>
<path d="M432.8 445.4h2.3M699.3 445.4h-2.3" stroke="#000" stroke-width="1"/>
<path d="M432.8 419.0h2.3M699.3 419.0h-2.3" stroke="#000" stroke-width="1"/>
<path d="M432.8 405.5h2.3M699.3 405.5h-2.3" stroke="#000" stroke-width="1"/>
<path d="M432.8 396.0h2.3M699.3 396.0h-2.3" stroke="#000" stroke-width="1"/>
<path d="M470.4 410.6L476.4 427.8L482.8 443.9L487.4 457.5L492.1 469.7L496.8 481.2L501.1 492.0L505.8 502.5L510.8 513.0L517.4 521.8L525.1 531.9L534.1 540.2L542.7 549.4L549.1 557.1L554.7 564.1L559.7 570.0L566.0 576.8L568.4 583.6L575.7 589.8L582.7 596.0L594.0 601.8L599.4 607.0L604.7 612.8L610.7 618.8L614.7 623.7L620.3 629.1L624.7 633.6L633.5 638.1L633.5 642.8L635.0 647.5L646.7 652.4L654.7 657.2L666.0 673.4" fill="none" stroke="#000" stroke-width="0.95" stroke-dasharray="1.7 2.8"/>
<path d="M470.4 407.2L473.8 410.6L470.4 414.0L467.1 410.6Z" fill="#000" stroke="none" stroke-width="0" stroke-linejoin="round"/>
<path d="M476.4 424.4L479.8 427.8L476.4 431.2L473.1 427.8Z" fill="#000" stroke="none" stroke-width="0" stroke-linejoin="round"/>
<path d="M482.8 440.5L486.1 443.9L482.8 447.2L479.4 443.9Z" fill="#000" stroke="none" stroke-width="0" stroke-linejoin="round"/>
<path d="M487.4 454.1L490.8 457.5L487.4 460.9L484.1 457.5Z" fill="#000" stroke="none" stroke-width="0" stroke-linejoin="round"/>
<path d="M492.1 466.3L495.4 469.7L492.1 473.1L488.7 469.7Z" fill="#000" stroke="none" stroke-width="0" stroke-linejoin="round"/>
<path d="M496.8 477.8L500.1 481.2L496.8 484.6L493.4 481.2Z" fill="#000" stroke="none" stroke-width="0" stroke-linejoin="round"/>
<path d="M501.1 488.6L504.4 492.0L501.1 495.4L497.7 492.0Z" fill="#000" stroke="none" stroke-width="0" stroke-linejoin="round"/>
<path d="M505.8 499.1L509.1 502.5L505.8 505.9L502.4 502.5Z" fill="#000" stroke="none" stroke-width="0" stroke-linejoin="round"/>
<path d="M510.8 509.6L514.1 513.0L510.8 516.4L507.4 513.0Z" fill="#000" stroke="none" stroke-width="0" stroke-linejoin="round"/>
<path d="M517.4 518.4L520.8 521.8L517.4 525.1L514.1 521.8Z" fill="#000" stroke="none" stroke-width="0" stroke-linejoin="round"/>
<path d="M525.1 528.5L528.4 531.9L525.1 535.2L521.7 531.9Z" fill="#000" stroke="none" stroke-width="0" stroke-linejoin="round"/>
<path d="M534.1 536.9L537.4 540.2L534.1 543.6L530.7 540.2Z" fill="#000" stroke="none" stroke-width="0" stroke-linejoin="round"/>
<path d="M542.7 546.0L546.1 549.4L542.7 552.8L539.4 549.4Z" fill="#000" stroke="none" stroke-width="0" stroke-linejoin="round"/>
<path d="M549.1 553.8L552.4 557.1L549.1 560.5L545.7 557.1Z" fill="#000" stroke="none" stroke-width="0" stroke-linejoin="round"/>
<path d="M554.7 560.8L558.1 564.1L554.7 567.5L551.4 564.1Z" fill="#000" stroke="none" stroke-width="0" stroke-linejoin="round"/>
<path d="M559.7 566.6L563.1 570.0L559.7 573.4L556.4 570.0Z" fill="#000" stroke="none" stroke-width="0" stroke-linejoin="round"/>
<path d="M566.0 573.4L569.4 576.8L566.0 580.1L562.7 576.8Z" fill="#000" stroke="none" stroke-width="0" stroke-linejoin="round"/>
<path d="M568.4 580.2L571.7 583.6L568.4 587.0L565.0 583.6Z" fill="#000" stroke="none" stroke-width="0" stroke-linejoin="round"/>
<path d="M575.7 586.4L579.1 589.8L575.7 593.1L572.4 589.8Z" fill="#000" stroke="none" stroke-width="0" stroke-linejoin="round"/>
<path d="M582.7 592.6L586.1 596.0L582.7 599.4L579.4 596.0Z" fill="#000" stroke="none" stroke-width="0" stroke-linejoin="round"/>
<path d="M594.0 598.4L597.4 601.8L594.0 605.1L590.7 601.8Z" fill="#000" stroke="none" stroke-width="0" stroke-linejoin="round"/>
<path d="M599.4 603.6L602.7 607.0L599.4 610.4L596.0 607.0Z" fill="#000" stroke="none" stroke-width="0" stroke-linejoin="round"/>
<path d="M604.7 609.4L608.0 612.8L604.7 616.1L601.3 612.8Z" fill="#000" stroke="none" stroke-width="0" stroke-linejoin="round"/>
<path d="M610.7 615.4L614.0 618.8L610.7 622.1L607.3 618.8Z" fill="#000" stroke="none" stroke-width="0" stroke-linejoin="round"/>
<path d="M614.7 620.4L618.0 623.7L614.7 627.1L611.3 623.7Z" fill="#000" stroke="none" stroke-width="0" stroke-linejoin="round"/>
<path d="M620.3 625.8L623.7 629.1L620.3 632.5L617.0 629.1Z" fill="#000" stroke="none" stroke-width="0" stroke-linejoin="round"/>
<path d="M624.7 630.2L628.0 633.6L624.7 637.0L621.3 633.6Z" fill="#000" stroke="none" stroke-width="0" stroke-linejoin="round"/>
<path d="M633.5 634.8L636.9 638.1L633.5 641.5L630.2 638.1Z" fill="#000" stroke="none" stroke-width="0" stroke-linejoin="round"/>
<path d="M635.0 644.1L638.4 647.5L635.0 650.9L631.7 647.5Z" fill="#000" stroke="none" stroke-width="0" stroke-linejoin="round"/>
<path d="M646.7 649.0L650.0 652.4L646.7 655.8L643.3 652.4Z" fill="#000" stroke="none" stroke-width="0" stroke-linejoin="round"/>
<path d="M654.7 653.9L658.0 657.2L654.7 660.6L651.3 657.2Z" fill="#000" stroke="none" stroke-width="0" stroke-linejoin="round"/>
<path d="M666.0 670.0L669.3 673.4L666.0 676.8L662.6 673.4Z" fill="#000" stroke="none" stroke-width="0" stroke-linejoin="round"/>
<path d="M633.5 639.4L636.9 642.8L633.5 646.1L630.2 642.8Z" fill="#000" stroke="none" stroke-width="0" stroke-linejoin="round"/>
<circle cx="470.4" cy="458.2" r="3.0" fill="#ff0000" stroke="none" stroke-width="0"/>
<circle cx="476.4" cy="465.2" r="3.0" fill="#ff0000" stroke="none" stroke-width="0"/>
<circle cx="482.8" cy="472.7" r="3.0" fill="#ff0000" stroke="none" stroke-width="0"/>
<circle cx="487.4" cy="478.7" r="3.0" fill="#ff0000" stroke="none" stroke-width="0"/>
<circle cx="492.1" cy="483.2" r="3.0" fill="#ff0000" stroke="none" stroke-width="0"/>
<circle cx="496.8" cy="487.7" r="3.0" fill="#ff0000" stroke="none" stroke-width="0"/>
<circle cx="501.1" cy="494.1" r="3.0" fill="#ff0000" stroke="none" stroke-width="0"/>
<circle cx="505.8" cy="498.7" r="3.0" fill="#ff0000" stroke="none" stroke-width="0"/>
<circle cx="510.8" cy="504.7" r="3.0" fill="#ff0000" stroke="none" stroke-width="0"/>
<circle cx="517.4" cy="511.8" r="3.0" fill="#ff0000" stroke="none" stroke-width="0"/>
<circle cx="525.1" cy="520.1" r="3.0" fill="#ff0000" stroke="none" stroke-width="0"/>
<circle cx="534.1" cy="528.7" r="3.0" fill="#ff0000" stroke="none" stroke-width="0"/>
<circle cx="542.7" cy="537.0" r="3.0" fill="#ff0000" stroke="none" stroke-width="0"/>
<circle cx="549.1" cy="543.1" r="3.0" fill="#ff0000" stroke="none" stroke-width="0"/>
<circle cx="554.7" cy="548.6" r="3.0" fill="#ff0000" stroke="none" stroke-width="0"/>
<circle cx="559.7" cy="553.2" r="3.0" fill="#ff0000" stroke="none" stroke-width="0"/>
<circle cx="566.0" cy="559.6" r="3.0" fill="#ff0000" stroke="none" stroke-width="0"/>
<circle cx="568.4" cy="563.3" r="3.0" fill="#ff0000" stroke="none" stroke-width="0"/>
<circle cx="575.7" cy="571.7" r="3.0" fill="#ff0000" stroke="none" stroke-width="0"/>
<circle cx="582.7" cy="578.7" r="3.0" fill="#ff0000" stroke="none" stroke-width="0"/>
<circle cx="594.0" cy="588.2" r="3.0" fill="#ff0000" stroke="none" stroke-width="0"/>
<circle cx="599.4" cy="593.5" r="3.0" fill="#ff0000" stroke="none" stroke-width="0"/>
<circle cx="604.7" cy="599.0" r="3.0" fill="#ff0000" stroke="none" stroke-width="0"/>
<circle cx="610.7" cy="603.6" r="3.0" fill="#ff0000" stroke="none" stroke-width="0"/>
<circle cx="614.7" cy="606.6" r="3.0" fill="#ff0000" stroke="none" stroke-width="0"/>
<circle cx="620.3" cy="610.4" r="3.0" fill="#ff0000" stroke="none" stroke-width="0"/>
<circle cx="624.7" cy="616.0" r="3.0" fill="#ff0000" stroke="none" stroke-width="0"/>
<circle cx="633.5" cy="627.4" r="3.0" fill="#ff0000" stroke="none" stroke-width="0"/>
<circle cx="635.0" cy="628.0" r="3.0" fill="#ff0000" stroke="none" stroke-width="0"/>
<circle cx="646.7" cy="635.5" r="3.0" fill="#ff0000" stroke="none" stroke-width="0"/>
<circle cx="654.7" cy="641.6" r="3.0" fill="#ff0000" stroke="none" stroke-width="0"/>
<circle cx="666.0" cy="648.4" r="3.0" fill="#ff0000" stroke="none" stroke-width="0"/>
<path d="M470.4 452.9L473.7 459.1L467.2 459.1Z" fill="#0000cd"/>
<path d="M476.4 459.9L479.7 466.1L473.2 466.1Z" fill="#0000cd"/>
<path d="M482.8 467.4L486.0 473.6L479.5 473.6Z" fill="#0000cd"/>
<path d="M487.4 473.4L490.7 479.6L484.2 479.6Z" fill="#0000cd"/>
<path d="M492.1 477.9L495.3 484.1L488.8 484.1Z" fill="#0000cd"/>
<path d="M496.8 482.4L500.0 488.6L493.5 488.6Z" fill="#0000cd"/>
<path d="M501.1 488.1L504.3 494.2L497.8 494.2Z" fill="#0000cd"/>
<path d="M505.8 492.8L509.0 498.9L502.5 498.9Z" fill="#0000cd"/>
<path d="M510.8 498.8L514.0 504.9L507.5 504.9Z" fill="#0000cd"/>
<path d="M517.4 505.8L520.7 511.9L514.2 511.9Z" fill="#0000cd"/>
<path d="M525.1 514.2L528.3 520.2L521.8 520.2Z" fill="#0000cd"/>
<path d="M534.1 522.8L537.3 528.8L530.8 528.8Z" fill="#0000cd"/>
<path d="M542.7 531.1L546.0 537.1L539.5 537.1Z" fill="#0000cd"/>
<path d="M549.1 537.2L552.3 543.2L545.8 543.2Z" fill="#0000cd"/>
<path d="M554.7 542.7L558.0 548.8L551.5 548.8Z" fill="#0000cd"/>
<path d="M559.7 547.2L563.0 553.3L556.5 553.3Z" fill="#0000cd"/>
<path d="M566.0 553.7L569.3 559.8L562.8 559.8Z" fill="#0000cd"/>
<path d="M568.4 557.4L571.6 563.4L565.1 563.4Z" fill="#0000cd"/>
<path d="M575.7 565.8L579.0 571.8L572.5 571.8Z" fill="#0000cd"/>
<path d="M582.7 572.8L586.0 578.8L579.5 578.8Z" fill="#0000cd"/>
<path d="M594.0 582.2L597.3 588.3L590.8 588.3Z" fill="#0000cd"/>
<path d="M599.4 587.6L602.6 593.6L596.1 593.6Z" fill="#0000cd"/>
<path d="M604.7 593.1L607.9 599.1L601.4 599.1Z" fill="#0000cd"/>
<path d="M610.7 597.7L613.9 603.8L607.4 603.8Z" fill="#0000cd"/>
<path d="M614.7 600.7L617.9 606.8L611.4 606.8Z" fill="#0000cd"/>
<path d="M620.3 604.5L623.6 610.5L617.1 610.5Z" fill="#0000cd"/>
<path d="M624.7 610.1L627.9 616.1L621.4 616.1Z" fill="#0000cd"/>
<path d="M633.5 619.2L636.8 625.3L630.3 625.3Z" fill="#0000cd"/>
<path d="M635.0 620.0L638.3 626.0L631.8 626.0Z" fill="#0000cd"/>
<path d="M646.7 629.6L649.9 635.6L643.4 635.6Z" fill="#0000cd"/>
<path d="M654.7 635.7L657.9 641.8L651.4 641.8Z" fill="#0000cd"/>
<path d="M666.0 642.5L669.2 648.5L662.7 648.5Z" fill="#0000cd"/>
<rect x="467.4" y="690.7" width="6.0" height="6.0" fill="#ff6347" stroke="none" stroke-width="0"/>
<rect x="473.4" y="690.7" width="6.0" height="6.0" fill="#ff6347" stroke="none" stroke-width="0"/>
<rect x="479.8" y="690.7" width="6.0" height="6.0" fill="#ff6347" stroke="none" stroke-width="0"/>
<rect x="484.4" y="690.7" width="6.0" height="6.0" fill="#ff6347" stroke="none" stroke-width="0"/>
<rect x="489.1" y="690.7" width="6.0" height="6.0" fill="#ff6347" stroke="none" stroke-width="0"/>
<rect x="493.8" y="690.7" width="6.0" height="6.0" fill="#ff6347" stroke="none" stroke-width="0"/>
<rect x="498.1" y="690.7" width="6.0" height="6.0" fill="#ff6347" stroke="none" stroke-width="0"/>
<rect x="502.8" y="690.7" width="6.0" height="6.0" fill="#ff6347" stroke="none" stroke-width="0"/>
<rect x="507.8" y="690.7" width="6.0" height="6.0" fill="#ff6347" stroke="none" stroke-width="0"/>
<rect x="514.4" y="690.7" width="6.0" height="6.0" fill="#ff6347" stroke="none" stroke-width="0"/>
<rect x="522.1" y="690.7" width="6.0" height="6.0" fill="#ff6347" stroke="none" stroke-width="0"/>
<rect x="531.1" y="690.7" width="6.0" height="6.0" fill="#ff6347" stroke="none" stroke-width="0"/>
<rect x="539.7" y="690.7" width="6.0" height="6.0" fill="#ff6347" stroke="none" stroke-width="0"/>
<rect x="546.1" y="690.7" width="6.0" height="6.0" fill="#ff6347" stroke="none" stroke-width="0"/>
<rect x="551.7" y="690.7" width="6.0" height="6.0" fill="#ff6347" stroke="none" stroke-width="0"/>
<rect x="556.7" y="690.7" width="6.0" height="6.0" fill="#ff6347" stroke="none" stroke-width="0"/>
<rect x="563.0" y="690.7" width="6.0" height="6.0" fill="#ff6347" stroke="none" stroke-width="0"/>
<rect x="565.4" y="690.7" width="6.0" height="6.0" fill="#ff6347" stroke="none" stroke-width="0"/>
<rect x="572.7" y="690.7" width="6.0" height="6.0" fill="#ff6347" stroke="none" stroke-width="0"/>
<rect x="579.7" y="690.7" width="6.0" height="6.0" fill="#ff6347" stroke="none" stroke-width="0"/>
<rect x="591.0" y="690.7" width="6.0" height="6.0" fill="#ff6347" stroke="none" stroke-width="0"/>
<rect x="596.4" y="690.7" width="6.0" height="6.0" fill="#ff6347" stroke="none" stroke-width="0"/>
<rect x="601.7" y="690.7" width="6.0" height="6.0" fill="#ff6347" stroke="none" stroke-width="0"/>
<rect x="607.7" y="690.7" width="6.0" height="6.0" fill="#ff6347" stroke="none" stroke-width="0"/>
<rect x="611.7" y="690.7" width="6.0" height="6.0" fill="#ff6347" stroke="none" stroke-width="0"/>
<rect x="617.3" y="690.7" width="6.0" height="6.0" fill="#ff6347" stroke="none" stroke-width="0"/>
<rect x="621.7" y="690.7" width="6.0" height="6.0" fill="#ff6347" stroke="none" stroke-width="0"/>
<rect x="630.5" y="690.7" width="6.0" height="6.0" fill="#ff6347" stroke="none" stroke-width="0"/>
<rect x="632.0" y="690.7" width="6.0" height="6.0" fill="#ff6347" stroke="none" stroke-width="0"/>
<rect x="643.7" y="690.7" width="6.0" height="6.0" fill="#ff6347" stroke="none" stroke-width="0"/>
<rect x="651.7" y="690.7" width="6.0" height="6.0" fill="#ff6347" stroke="none" stroke-width="0"/>
<rect x="663.0" y="690.7" width="6.0" height="6.0" fill="#ff6347" stroke="none" stroke-width="0"/>
<path d="M470.4 691.4L472.8 693.7L470.4 696.1L468.1 693.7Z" fill="#fff" stroke="#4b0a90" stroke-width="1.05" stroke-linejoin="round"/>
<path d="M476.4 691.4L478.8 693.7L476.4 696.1L474.1 693.7Z" fill="#fff" stroke="#4b0a90" stroke-width="1.05" stroke-linejoin="round"/>
<path d="M482.8 691.4L485.1 693.7L482.8 696.1L480.4 693.7Z" fill="#fff" stroke="#4b0a90" stroke-width="1.05" stroke-linejoin="round"/>
<path d="M487.4 691.4L489.8 693.7L487.4 696.1L485.1 693.7Z" fill="#fff" stroke="#4b0a90" stroke-width="1.05" stroke-linejoin="round"/>
<path d="M492.1 691.4L494.4 693.7L492.1 696.1L489.7 693.7Z" fill="#fff" stroke="#4b0a90" stroke-width="1.05" stroke-linejoin="round"/>
<path d="M496.8 691.4L499.1 693.7L496.8 696.1L494.4 693.7Z" fill="#fff" stroke="#4b0a90" stroke-width="1.05" stroke-linejoin="round"/>
<path d="M501.1 691.4L503.4 693.7L501.1 696.1L498.7 693.7Z" fill="#fff" stroke="#4b0a90" stroke-width="1.05" stroke-linejoin="round"/>
<path d="M505.8 691.4L508.1 693.7L505.8 696.1L503.4 693.7Z" fill="#fff" stroke="#4b0a90" stroke-width="1.05" stroke-linejoin="round"/>
<path d="M510.8 691.4L513.1 693.7L510.8 696.1L508.4 693.7Z" fill="#fff" stroke="#4b0a90" stroke-width="1.05" stroke-linejoin="round"/>
<path d="M517.4 691.4L519.8 693.7L517.4 696.1L515.1 693.7Z" fill="#fff" stroke="#4b0a90" stroke-width="1.05" stroke-linejoin="round"/>
<path d="M525.1 691.4L527.4 693.7L525.1 696.1L522.7 693.7Z" fill="#fff" stroke="#4b0a90" stroke-width="1.05" stroke-linejoin="round"/>
<path d="M534.1 691.4L536.4 693.7L534.1 696.1L531.7 693.7Z" fill="#fff" stroke="#4b0a90" stroke-width="1.05" stroke-linejoin="round"/>
<path d="M542.7 691.4L545.1 693.7L542.7 696.1L540.4 693.7Z" fill="#fff" stroke="#4b0a90" stroke-width="1.05" stroke-linejoin="round"/>
<path d="M549.1 691.4L551.4 693.7L549.1 696.1L546.7 693.7Z" fill="#fff" stroke="#4b0a90" stroke-width="1.05" stroke-linejoin="round"/>
<path d="M554.7 691.4L557.1 693.7L554.7 696.1L552.4 693.7Z" fill="#fff" stroke="#4b0a90" stroke-width="1.05" stroke-linejoin="round"/>
<path d="M559.7 691.4L562.1 693.7L559.7 696.1L557.4 693.7Z" fill="#fff" stroke="#4b0a90" stroke-width="1.05" stroke-linejoin="round"/>
<path d="M566.0 691.4L568.4 693.7L566.0 696.1L563.7 693.7Z" fill="#fff" stroke="#4b0a90" stroke-width="1.05" stroke-linejoin="round"/>
<path d="M568.4 691.4L570.7 693.7L568.4 696.1L566.0 693.7Z" fill="#fff" stroke="#4b0a90" stroke-width="1.05" stroke-linejoin="round"/>
<path d="M575.7 691.4L578.1 693.7L575.7 696.1L573.4 693.7Z" fill="#fff" stroke="#4b0a90" stroke-width="1.05" stroke-linejoin="round"/>
<path d="M582.7 691.4L585.1 693.7L582.7 696.1L580.4 693.7Z" fill="#fff" stroke="#4b0a90" stroke-width="1.05" stroke-linejoin="round"/>
<path d="M594.0 691.4L596.4 693.7L594.0 696.1L591.7 693.7Z" fill="#fff" stroke="#4b0a90" stroke-width="1.05" stroke-linejoin="round"/>
<path d="M599.4 691.4L601.7 693.7L599.4 696.1L597.0 693.7Z" fill="#fff" stroke="#4b0a90" stroke-width="1.05" stroke-linejoin="round"/>
<path d="M604.7 691.4L607.0 693.7L604.7 696.1L602.3 693.7Z" fill="#fff" stroke="#4b0a90" stroke-width="1.05" stroke-linejoin="round"/>
<path d="M610.7 691.4L613.0 693.7L610.7 696.1L608.3 693.7Z" fill="#fff" stroke="#4b0a90" stroke-width="1.05" stroke-linejoin="round"/>
<path d="M614.7 691.4L617.0 693.7L614.7 696.1L612.3 693.7Z" fill="#fff" stroke="#4b0a90" stroke-width="1.05" stroke-linejoin="round"/>
<path d="M620.3 691.4L622.7 693.7L620.3 696.1L618.0 693.7Z" fill="#fff" stroke="#4b0a90" stroke-width="1.05" stroke-linejoin="round"/>
<path d="M624.7 691.4L627.0 693.7L624.7 696.1L622.3 693.7Z" fill="#fff" stroke="#4b0a90" stroke-width="1.05" stroke-linejoin="round"/>
<path d="M633.5 691.4L635.9 693.7L633.5 696.1L631.2 693.7Z" fill="#fff" stroke="#4b0a90" stroke-width="1.05" stroke-linejoin="round"/>
<path d="M635.0 691.4L637.4 693.7L635.0 696.1L632.7 693.7Z" fill="#fff" stroke="#4b0a90" stroke-width="1.05" stroke-linejoin="round"/>
<path d="M646.7 691.4L649.0 693.7L646.7 696.1L644.3 693.7Z" fill="#fff" stroke="#4b0a90" stroke-width="1.05" stroke-linejoin="round"/>
<path d="M654.7 691.4L657.0 693.7L654.7 696.1L652.3 693.7Z" fill="#fff" stroke="#4b0a90" stroke-width="1.05" stroke-linejoin="round"/>
<path d="M666.0 691.4L668.3 693.7L666.0 696.1L663.6 693.7Z" fill="#fff" stroke="#4b0a90" stroke-width="1.05" stroke-linejoin="round"/>
<path d="M633.8 691.4L636.2 693.7L633.8 696.1L631.5 693.7Z" fill="#4b0a90" stroke="#4b0a90" stroke-width="1.05" stroke-linejoin="round"/>
<circle cx="634.0" cy="693.7" r="0.5" fill="#b9a3d6" stroke="none" stroke-width="0"/>
<circle cx="470.4" cy="454.4" r="2.5" fill="#fff" stroke="#00ced1" stroke-width="1.05"/>
<circle cx="476.4" cy="461.6" r="2.5" fill="#fff" stroke="#00ced1" stroke-width="1.05"/>
<circle cx="482.8" cy="469.7" r="2.5" fill="#fff" stroke="#00ced1" stroke-width="1.05"/>
<circle cx="487.4" cy="476.2" r="2.5" fill="#fff" stroke="#00ced1" stroke-width="1.05"/>
<circle cx="492.1" cy="482.9" r="2.5" fill="#fff" stroke="#00ced1" stroke-width="1.05"/>
<circle cx="496.8" cy="488.2" r="2.5" fill="#fff" stroke="#00ced1" stroke-width="1.05"/>
<circle cx="501.1" cy="497.0" r="2.5" fill="#fff" stroke="#00ced1" stroke-width="1.05"/>
<circle cx="505.8" cy="503.8" r="2.5" fill="#fff" stroke="#00ced1" stroke-width="1.05"/>
<circle cx="510.8" cy="514.5" r="2.5" fill="#fff" stroke="#00ced1" stroke-width="1.05"/>
<circle cx="517.4" cy="525.8" r="2.5" fill="#fff" stroke="#00ced1" stroke-width="1.05"/>
<circle cx="525.1" cy="537.0" r="2.5" fill="#fff" stroke="#00ced1" stroke-width="1.05"/>
<circle cx="534.1" cy="548.8" r="2.5" fill="#fff" stroke="#00ced1" stroke-width="1.05"/>
<circle cx="542.7" cy="559.8" r="2.5" fill="#fff" stroke="#00ced1" stroke-width="1.05"/>
<circle cx="549.1" cy="570.9" r="2.5" fill="#fff" stroke="#00ced1" stroke-width="1.05"/>
<circle cx="554.7" cy="575.7" r="2.5" fill="#fff" stroke="#00ced1" stroke-width="1.05"/>
<circle cx="559.7" cy="584.3" r="2.5" fill="#fff" stroke="#00ced1" stroke-width="1.05"/>
<circle cx="566.0" cy="590.2" r="2.5" fill="#fff" stroke="#00ced1" stroke-width="1.05"/>
<circle cx="568.4" cy="604.7" r="2.5" fill="#fff" stroke="#00ced1" stroke-width="1.05"/>
<circle cx="575.7" cy="614.5" r="2.5" fill="#fff" stroke="#00ced1" stroke-width="1.05"/>
<circle cx="582.7" cy="625.8" r="2.5" fill="#fff" stroke="#00ced1" stroke-width="1.05"/>
<circle cx="594.0" cy="630.1" r="2.5" fill="#fff" stroke="#00ced1" stroke-width="1.05"/>
<circle cx="599.4" cy="637.7" r="2.5" fill="#fff" stroke="#00ced1" stroke-width="1.05"/>
<circle cx="604.7" cy="646.3" r="2.5" fill="#fff" stroke="#00ced1" stroke-width="1.05"/>
<circle cx="610.7" cy="646.9" r="2.5" fill="#fff" stroke="#00ced1" stroke-width="1.05"/>
<circle cx="614.7" cy="650.4" r="2.5" fill="#fff" stroke="#00ced1" stroke-width="1.05"/>
<circle cx="620.3" cy="648.5" r="2.5" fill="#fff" stroke="#00ced1" stroke-width="1.05"/>
<circle cx="624.7" cy="661.3" r="2.5" fill="#fff" stroke="#00ced1" stroke-width="1.05"/>
<circle cx="633.5" cy="667.4" r="2.5" fill="#fff" stroke="#00ced1" stroke-width="1.05"/>
<circle cx="635.0" cy="678.7" r="2.5" fill="#fff" stroke="#00ced1" stroke-width="1.05"/>
<circle cx="646.7" cy="676.6" r="2.5" fill="#fff" stroke="#00ced1" stroke-width="1.05"/>
<circle cx="654.7" cy="680.7" r="2.5" fill="#fff" stroke="#00ced1" stroke-width="1.05"/>
<circle cx="666.0" cy="681.4" r="2.5" fill="#fff" stroke="#00ced1" stroke-width="1.05"/>
<circle cx="633.5" cy="680.7" r="2.5" fill="#fff" stroke="#00ced1" stroke-width="1.05"/>
<path d="M470.4 464.2L471.2 467.8L474.9 467.4L471.7 469.3L473.2 472.7L470.4 470.3L467.7 472.7L469.1 469.3L466.0 467.4L469.6 467.8Z" fill="#800d0d"/>
<path d="M476.4 472.6L477.2 476.2L480.9 475.8L477.7 477.7L479.2 481.1L476.4 478.7L473.7 481.1L475.1 477.7L472.0 475.8L475.6 476.2Z" fill="#800d0d"/>
<path d="M482.8 480.6L483.6 484.2L487.2 483.8L484.1 485.7L485.5 489.1L482.8 486.7L480.0 489.1L481.5 485.7L478.3 483.8L482.0 484.2Z" fill="#800d0d"/>
<path d="M487.4 487.1L488.2 490.7L491.9 490.3L488.7 492.2L490.2 495.6L487.4 493.2L484.7 495.6L486.1 492.2L483.0 490.3L486.6 490.7Z" fill="#800d0d"/>
<path d="M492.1 493.5L492.9 497.1L496.6 496.7L493.4 498.6L494.9 502.0L492.1 499.6L489.3 502.0L490.8 498.6L487.6 496.7L491.3 497.1Z" fill="#800d0d"/>
<path d="M496.8 499.1L497.6 502.7L501.2 502.3L498.1 504.2L499.5 507.6L496.8 505.2L494.0 507.6L495.5 504.2L492.3 502.3L496.0 502.7Z" fill="#800d0d"/>
<path d="M501.1 507.3L501.9 510.9L505.6 510.5L502.4 512.4L503.9 515.8L501.1 513.4L498.3 515.8L499.8 512.4L496.6 510.5L500.3 510.9Z" fill="#800d0d"/>
<path d="M505.8 514.0L506.6 517.6L510.2 517.2L507.1 519.1L508.5 522.5L505.8 520.1L503.0 522.5L504.5 519.1L501.3 517.2L505.0 517.6Z" fill="#800d0d"/>
<path d="M510.8 525.0L511.6 528.6L515.2 528.2L512.0 530.1L513.5 533.5L510.8 531.1L508.0 533.5L509.5 530.1L506.3 528.2L510.0 528.6Z" fill="#800d0d"/>
<path d="M517.4 537.7L518.2 541.3L521.9 540.9L518.7 542.8L520.2 546.2L517.4 543.8L514.7 546.2L516.1 542.8L512.9 540.9L516.6 541.3Z" fill="#800d0d"/>
<path d="M525.1 550.7L525.9 554.3L529.5 553.9L526.4 555.8L527.8 559.2L525.1 556.8L522.3 559.2L523.8 555.8L520.6 553.9L524.3 554.3Z" fill="#800d0d"/>
<path d="M534.1 564.3L534.9 567.9L538.5 567.5L535.4 569.4L536.8 572.8L534.1 570.4L531.3 572.8L532.8 569.4L529.6 567.5L533.3 567.9Z" fill="#800d0d"/>
<path d="M542.7 575.6L543.5 579.2L547.2 578.8L544.0 580.7L545.5 584.1L542.7 581.7L540.0 584.1L541.4 580.7L538.3 578.8L541.9 579.2Z" fill="#800d0d"/>
<path d="M549.1 585.1L549.9 588.7L553.5 588.3L550.4 590.2L551.8 593.6L549.1 591.2L546.3 593.6L547.8 590.2L544.6 588.3L548.3 588.7Z" fill="#800d0d"/>
<path d="M554.7 590.6L555.5 594.2L559.2 593.8L556.0 595.7L557.5 599.1L554.7 596.7L552.0 599.1L553.4 595.7L550.3 593.8L553.9 594.2Z" fill="#800d0d"/>
<path d="M559.7 596.7L560.5 600.3L564.2 599.9L561.0 601.8L562.5 605.2L559.7 602.8L557.0 605.2L558.4 601.8L555.3 599.9L558.9 600.3Z" fill="#800d0d"/>
<path d="M566.0 602.7L566.9 606.3L570.5 605.9L567.3 607.8L568.8 611.2L566.0 608.8L563.3 611.2L564.8 607.8L561.6 605.9L565.2 606.3Z" fill="#800d0d"/>
<path d="M568.4 608.5L569.2 612.1L572.9 611.7L569.7 613.6L571.1 617.0L568.4 614.6L565.6 617.0L567.1 613.6L563.9 611.7L567.6 612.1Z" fill="#800d0d"/>
<path d="M575.7 617.2L576.5 620.8L580.2 620.4L577.0 622.3L578.5 625.7L575.7 623.3L572.9 625.7L574.4 622.3L571.2 620.4L574.9 620.8Z" fill="#800d0d"/>
<path d="M582.7 624.8L583.5 628.4L587.2 628.0L584.0 629.9L585.5 633.3L582.7 630.9L579.9 633.3L581.4 629.9L578.2 628.0L581.9 628.4Z" fill="#800d0d"/>
<path d="M594.0 631.5L594.8 635.1L598.5 634.7L595.3 636.6L596.8 640.0L594.0 637.6L591.3 640.0L592.7 636.6L589.6 634.7L593.2 635.1Z" fill="#800d0d"/>
<path d="M599.4 636.7L600.2 640.3L603.8 639.9L600.7 641.8L602.1 645.2L599.4 642.8L596.6 645.2L598.1 641.8L594.9 639.9L598.6 640.3Z" fill="#800d0d"/>
<path d="M604.7 641.8L605.5 645.4L609.2 645.0L606.0 646.9L607.5 650.3L604.7 647.9L601.9 650.3L603.4 646.9L600.2 645.0L603.9 645.4Z" fill="#800d0d"/>
<path d="M610.7 643.8L611.5 647.4L615.2 647.0L612.0 648.9L613.5 652.3L610.7 649.9L607.9 652.3L609.4 648.9L606.2 647.0L609.9 647.4Z" fill="#800d0d"/>
<path d="M614.7 646.9L615.5 650.5L619.2 650.1L616.0 652.0L617.4 655.4L614.7 653.0L611.9 655.4L613.4 652.0L610.2 650.1L613.9 650.5Z" fill="#800d0d"/>
<path d="M620.3 649.0L621.2 652.6L624.8 652.2L621.6 654.1L623.1 657.5L620.3 655.1L617.6 657.5L619.1 654.1L615.9 652.2L619.5 652.6Z" fill="#800d0d"/>
<path d="M624.7 654.5L625.5 658.1L629.1 657.7L626.0 659.6L627.4 663.0L624.7 660.6L621.9 663.0L623.4 659.6L620.2 657.7L623.9 658.1Z" fill="#800d0d"/>
<path d="M633.5 660.0L634.3 663.6L638.0 663.2L634.8 665.1L636.3 668.5L633.5 666.1L630.7 668.5L632.2 665.1L629.0 663.2L632.7 663.6Z" fill="#800d0d"/>
<path d="M635.0 662.7L635.8 666.3L639.5 665.9L636.3 667.8L637.8 671.2L635.0 668.8L632.2 671.2L633.7 667.8L630.5 665.9L634.2 666.3Z" fill="#800d0d"/>
<path d="M646.7 667.2L647.5 670.8L651.1 670.4L648.0 672.3L649.4 675.7L646.7 673.3L643.9 675.7L645.4 672.3L642.2 670.4L645.9 670.8Z" fill="#800d0d"/>
<path d="M654.7 671.5L655.5 675.1L659.1 674.7L656.0 676.6L657.4 680.0L654.7 677.6L651.9 680.0L653.4 676.6L650.2 674.7L653.9 675.1Z" fill="#800d0d"/>
<path d="M666.0 677.1L666.8 680.7L670.5 680.3L667.3 682.2L668.8 685.6L666.0 683.2L663.2 685.6L664.7 682.2L661.5 680.3L665.2 680.7Z" fill="#800d0d"/>
<text transform="translate(387.8 542.2) rotate(-90)" font-size="19.1" text-anchor="middle" font-family="Liberation Sans, sans-serif">K<tspan font-size="14.5" dy="4.5">c</tspan><tspan dy="-4.5">[t] (fm</tspan><tspan font-size="14.8" dy="-9">6</tspan><tspan dy="9">)</tspan></text>
<text x="566.0" y="407.5" font-size="18.9" text-anchor="middle" font-family="Liberation Sans, sans-serif">(d)</text>
<rect x="184.6" y="378.1" width="166.5" height="143.9" fill="#fff" stroke="#000" stroke-width="1"/>
<path d="M190.5 389.0h21.2" stroke="#000" stroke-width="1" stroke-dasharray="2.2 2.4"/>
<path d="M201.1 385.6L204.4 389.0L201.1 392.4L197.8 389.0Z" fill="#000" stroke="none" stroke-width="0" stroke-linejoin="round"/>
<text x="216.3" y="393.4" font-size="11.32" font-family="Liberation Sans, sans-serif">Exp. (Qin et al. 2012)</text>
<path d="M190.5 402.7h21.2" stroke="#000" stroke-width="1.1"/>
<text x="216.3" y="407.1" font-size="11.32" font-family="Liberation Sans, sans-serif">ideal gas</text>
<circle cx="201.1" cy="416.3" r="3.0" fill="#ff0000" stroke="none" stroke-width="0"/>
<text x="216.3" y="420.7" font-size="11.32" font-family="Liberation Sans, sans-serif">HS(DD2), no CS, A<tspan font-size="13.5" dx="0.8">≤</tspan><tspan dx="0.8">4</tspan></text>
<path d="M201.1 426.9L204.3 433.0L197.8 433.0Z" fill="#0000cd"/>
<text x="216.3" y="434.4" font-size="11.32" font-family="Liberation Sans, sans-serif">SFHo, no CS, A<tspan font-size="13.5" dx="0.8">≤</tspan><tspan dx="0.8">4</tspan></text>
<rect x="198.2" y="440.8" width="5.7" height="5.7" fill="#ffa500" stroke="none" stroke-width="0"/>
<text x="216.3" y="448.0" font-size="11.32" font-family="Liberation Sans, sans-serif">LS220, HIC mod., cor. B<tspan font-size="9" dy="3.1" font-family="Liberation Serif, serif" font-style="italic">α</tspan></text>
<rect x="198.7" y="454.9" width="4.8" height="4.8" fill="#fff" stroke="#228b22" stroke-width="1.1"/>
<text x="216.3" y="461.7" font-size="11.32" font-family="Liberation Sans, sans-serif">STOS, HIC mod.</text>
<rect x="198.1" y="468.0" width="6.0" height="6.0" fill="#ff6347" stroke="none" stroke-width="0"/>
<text x="216.3" y="475.4" font-size="11.32" font-family="Liberation Sans, sans-serif">SHT(NL3)</text>
<path d="M201.1 482.3L203.4 484.6L201.1 487.0L198.8 484.6Z" fill="#fff" stroke="#4b0a90" stroke-width="1.05" stroke-linejoin="round"/>
<text x="216.3" y="489.0" font-size="11.32" font-family="Liberation Sans, sans-serif">SHO(FSU2.1)</text>
<circle cx="201.1" cy="498.3" r="2.5" fill="#fff" stroke="#00ced1" stroke-width="1.05"/>
<text x="216.3" y="502.7" font-size="11.32" font-family="Liberation Sans, sans-serif">gRDF</text>
<path d="M201.1 507.2L201.9 510.8L205.6 510.5L202.4 512.4L203.9 515.7L201.1 513.3L198.3 515.7L199.8 512.4L196.6 510.5L200.3 510.8Z" fill="#800d0d"/>
<text x="216.3" y="516.3" font-size="11.32" font-family="Liberation Sans, sans-serif">QS</text>
</svg>
</body></html>
